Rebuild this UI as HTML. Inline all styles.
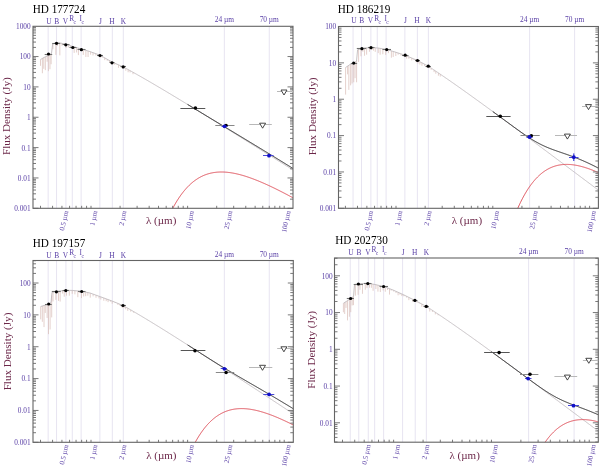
<!DOCTYPE html>
<html><head><meta charset="utf-8"><style>
html,body{margin:0;padding:0;background:#fff;width:600px;height:468px;overflow:hidden}
svg{display:block;filter:blur(0.3px)}
text{font-family:"Liberation Serif",serif}
</style></head><body>
<svg width="600" height="468" viewBox="0 0 600 468">
<rect width="600" height="468" fill="#fff"/>
<clipPath id="c1"><rect x="33" y="26.3" width="260" height="182"/></clipPath>
<line x1="48.15" y1="26.3" x2="48.15" y2="208.3" stroke="#e7e4f1" stroke-width="1"/>
<line x1="56.57" y1="26.3" x2="56.57" y2="208.3" stroke="#e7e4f1" stroke-width="1"/>
<line x1="65.93" y1="26.3" x2="65.93" y2="208.3" stroke="#e7e4f1" stroke-width="1"/>
<line x1="72.29" y1="26.3" x2="72.29" y2="208.3" stroke="#e7e4f1" stroke-width="1"/>
<line x1="81.12" y1="26.3" x2="81.12" y2="208.3" stroke="#e7e4f1" stroke-width="1"/>
<line x1="99.87" y1="26.3" x2="99.87" y2="208.3" stroke="#e7e4f1" stroke-width="1"/>
<line x1="112.32" y1="26.3" x2="112.32" y2="208.3" stroke="#e7e4f1" stroke-width="1"/>
<line x1="123.3" y1="26.3" x2="123.3" y2="208.3" stroke="#e7e4f1" stroke-width="1"/>
<line x1="224.34" y1="26.3" x2="224.34" y2="208.3" stroke="#e7e4f1" stroke-width="1"/>
<line x1="269.25" y1="26.3" x2="269.25" y2="208.3" stroke="#e7e4f1" stroke-width="1"/>
<g clip-path="url(#c1)">
<path d="M40.5 59.5v6.31 M42.38 58.43v14.81 M43.78 57.62v11.19 M45.34 56.84v13.3 M47.17 55.95v5.77 M48.4 55.35v15.78 M49.94 54.44v14.79 M51.14 53.71v10.51 M52.92 43.87v5.29 M55.84 42.89v12.01 M57.49 42.67v3.25 M59.84 42.97v12.39 M61.98 43.4v2.3 M64.17 43.89v1.17 M66.08 44.33v3.63 M68.37 45.07v2.4 M70.3 45.69v2.31 M72.54 46.41v2.74 M74.17 46.89v6.03 M76.55 47.59v4.85 M78.41 48.14v6.96 M81.21 48.96v1.73 M83.28 49.58v5.33 M85.88 50.36v6.62 M88.07 51.02v5.98 M90.6 51.82v2.82 M93.03 52.69v2.71 M95.81 53.69v1.76 M98.24 54.57v0.59 M100.18 55.3v2.49 M102.36 56.54v0.93 M104.72 57.88v2.26 M107.27 59.32v1.44 M109.48 60.57v1.77 M112.17 62.08v1.8 M114.32 63.02v1.72 M115.97 63.73v0.61 M118.55 64.87v2.96 M120.98 65.93v1.48 M122.82 66.73v1.76 M125.79 68.3v2.43 M128.15 69.59v2.65 M130.07 70.64v1.78 M133.01 72.27v1.94" stroke="#d2b0aa" stroke-width="0.6" fill="none"/>
<path d="M40.5 59.5 L44 57.5 L48.5 55.3 L51.5 53.5 L52.6 44 L55 43 L58 42.6 L62 43.4 L66 44.3 L72.5 46.4 L81 48.9 L90 51.6 L100 55.2 L112 62 L123.2 66.9 L124.03 67.35 L124.86 67.8 L125.69 68.25 L126.52 68.7 L127.35 69.15 L128.18 69.6 L129.02 70.06 L129.85 70.52 L130.68 70.98 L131.51 71.44 L132.34 71.9 L133.17 72.36 L134 72.82 L134.83 73.29 L135.66 73.76 L136.49 74.22 L137.32 74.69 L138.15 75.16 L138.98 75.63 L139.82 76.1 L140.65 76.58 L141.48 77.05 L142.31 77.52 L143.14 78 L143.97 78.48 L144.8 78.96 L145.63 79.43 L146.46 79.91 L147.29 80.39 L148.12 80.87 L148.95 81.36 L149.78 81.84 L150.62 82.32 L151.45 82.81 L152.28 83.29 L153.11 83.78 L153.94 84.27 L154.77 84.75 L155.6 85.24 L156.43 85.73 L157.26 86.22 L158.09 86.71 L158.92 87.2 L159.75 87.69 L160.58 88.18 L161.42 88.68 L162.25 89.17 L163.08 89.66 L163.91 90.16 L164.74 90.65 L165.57 91.15 L166.4 91.64 L167.23 92.14 L168.06 92.64 L168.89 93.14 L169.72 93.63 L170.55 94.13 L171.39 94.63 L172.22 95.13 L173.05 95.63 L173.88 96.13 L174.71 96.63 L175.54 97.13 L176.37 97.64 L177.2 98.14 L178.03 98.64 L178.86 99.14 L179.69 99.65 L180.52 100.15 L181.35 100.65 L182.19 101.16 L183.02 101.66 L183.85 102.17 L184.68 102.67 L185.51 103.18 L186.34 103.69 L187.17 104.19 L188 104.7 L188.83 105.21 L189.66 105.71 L190.49 106.22 L191.32 106.73 L192.15 107.24 L192.99 107.75 L193.82 108.25 L194.65 108.76 L195.48 109.27 L196.31 109.78 L197.14 110.29 L197.97 110.8 L198.8 111.31 L199.63 111.82 L200.46 112.33 L201.29 112.84 L202.12 113.35 L202.95 113.87 L203.79 114.38 L204.62 114.89 L205.45 115.4 L206.28 115.91 L207.11 116.43 L207.94 116.94 L208.77 117.45 L209.6 117.96 L210.43 118.48 L211.26 118.99 L212.09 119.5 L212.92 120.02 L213.75 120.53 L214.59 121.05 L215.42 121.56 L216.25 122.07 L217.08 122.59 L217.91 123.1 L218.74 123.62 L219.57 124.13 L220.4 124.65 L221.23 125.16 L222.06 125.68 L222.89 126.19 L223.72 126.71 L224.55 127.23 L225.39 127.74 L226.22 128.26 L227.05 128.77 L227.88 129.29 L228.71 129.81 L229.54 130.32 L230.37 130.84 L231.2 131.35 L232.03 131.87 L232.86 132.39 L233.69 132.91 L234.52 133.42 L235.35 133.94 L236.19 134.46 L237.02 134.97 L237.85 135.49 L238.68 136.01 L239.51 136.53 L240.34 137.04 L241.17 137.56 L242 138.08 L242.83 138.6 L243.66 139.12 L244.49 139.63 L245.32 140.15 L246.15 140.67 L246.99 141.19 L247.82 141.71 L248.65 142.23 L249.48 142.74 L250.31 143.26 L251.14 143.78 L251.97 144.3 L252.8 144.82 L253.63 145.34 L254.46 145.86 L255.29 146.38 L256.12 146.89 L256.96 147.41 L257.79 147.93 L258.62 148.45 L259.45 148.97 L260.28 149.49 L261.11 150.01 L261.94 150.53 L262.77 151.05 L263.6 151.57 L264.43 152.09 L265.26 152.61 L266.09 153.13 L266.92 153.65 L267.76 154.17 L268.59 154.69 L269.42 155.21 L270.25 155.73 L271.08 156.25 L271.91 156.77 L272.74 157.29 L273.57 157.81 L274.4 158.33 L275.23 158.85 L276.06 159.37 L276.89 159.89 L277.72 160.41 L278.56 160.93 L279.39 161.45 L280.22 161.97 L281.05 162.49 L281.88 163.01 L282.71 163.53 L283.54 164.05 L284.37 164.57 L285.2 165.09 L286.03 165.61 L286.86 166.13 L287.69 166.65 L288.52 167.17 L289.36 167.69 L290.19 168.22 L291.02 168.74 L291.85 169.26 L292.68 169.78 L293.51 170.3 L294.34 170.82" stroke="#c2bcc0" stroke-width="0.9" fill="none"/>
<path d="M160.06 238.22 L160.48 237.03 L160.89 235.85 L161.31 234.69 L161.73 233.54 L162.15 232.41 L162.56 231.29 L162.98 230.19 L163.4 229.1 L163.82 228.03 L164.23 226.97 L164.65 225.92 L165.07 224.89 L165.49 223.88 L165.9 222.87 L166.32 221.89 L166.74 220.91 L167.16 219.95 L167.57 219 L167.99 218.07 L168.41 217.15 L168.83 216.24 L169.24 215.34 L169.66 214.46 L170.08 213.59 L170.5 212.73 L170.91 211.89 L171.33 211.06 L171.75 210.24 L172.17 209.43 L172.58 208.63 L173 207.85 L173.42 207.07 L173.84 206.31 L174.25 205.56 L174.67 204.82 L175.09 204.09 L175.5 203.38 L175.92 202.67 L176.34 201.98 L176.76 201.29 L177.17 200.62 L177.59 199.95 L178.01 199.3 L178.43 198.66 L178.84 198.03 L179.26 197.41 L179.68 196.79 L180.1 196.19 L180.51 195.6 L180.93 195.02 L181.35 194.44 L181.77 193.88 L182.18 193.33 L182.6 192.78 L183.02 192.25 L183.44 191.72 L183.85 191.2 L184.27 190.7 L184.69 190.2 L185.11 189.71 L185.52 189.22 L185.94 188.75 L186.36 188.29 L186.78 187.83 L187.19 187.38 L187.61 186.94 L188.03 186.51 L188.45 186.09 L188.86 185.67 L189.28 185.26 L189.7 184.86 L190.12 184.47 L190.53 184.09 L190.95 183.71 L191.37 183.34 L191.79 182.98 L192.2 182.63 L192.62 182.28 L193.04 181.94 L193.46 181.6 L193.87 181.28 L194.29 180.96 L194.71 180.65 L195.12 180.34 L195.54 180.04 L195.96 179.75 L196.38 179.47 L196.79 179.19 L197.21 178.91 L197.63 178.65 L198.05 178.39 L198.46 178.13 L198.88 177.89 L199.3 177.65 L199.72 177.41 L200.13 177.18 L200.55 176.96 L200.97 176.74 L201.39 176.53 L201.8 176.32 L202.22 176.12 L202.64 175.93 L203.06 175.74 L203.47 175.55 L203.89 175.38 L204.31 175.2 L204.73 175.03 L205.14 174.87 L205.56 174.71 L205.98 174.56 L206.4 174.41 L206.81 174.27 L207.23 174.13 L207.65 174 L208.07 173.87 L208.48 173.75 L208.9 173.63 L209.32 173.52 L209.74 173.41 L210.15 173.3 L210.57 173.2 L210.99 173.11 L211.41 173.02 L211.82 172.93 L212.24 172.85 L212.66 172.77 L213.07 172.69 L213.49 172.62 L213.91 172.56 L214.33 172.49 L214.74 172.43 L215.16 172.38 L215.58 172.33 L216 172.28 L216.41 172.24 L216.83 172.2 L217.25 172.16 L217.67 172.13 L218.08 172.1 L218.5 172.08 L218.92 172.06 L219.34 172.04 L219.75 172.02 L220.17 172.01 L220.59 172.01 L221.01 172 L221.42 172 L221.84 172 L222.26 172.01 L222.68 172.02 L223.09 172.03 L223.51 172.04 L223.93 172.06 L224.35 172.08 L224.76 172.1 L225.18 172.13 L225.6 172.16 L226.02 172.19 L226.43 172.22 L226.85 172.26 L227.27 172.3 L227.69 172.34 L228.1 172.39 L228.52 172.44 L228.94 172.49 L229.36 172.54 L229.77 172.6 L230.19 172.66 L230.61 172.72 L231.03 172.78 L231.44 172.85 L231.86 172.91 L232.28 172.98 L232.69 173.06 L233.11 173.13 L233.53 173.21 L233.95 173.29 L234.36 173.37 L234.78 173.45 L235.2 173.54 L235.62 173.63 L236.03 173.72 L236.45 173.81 L236.87 173.91 L237.29 174 L237.7 174.1 L238.12 174.2 L238.54 174.3 L238.96 174.41 L239.37 174.51 L239.79 174.62 L240.21 174.73 L240.63 174.84 L241.04 174.95 L241.46 175.07 L241.88 175.19 L242.3 175.3 L242.71 175.42 L243.13 175.55 L243.55 175.67 L243.97 175.79 L244.38 175.92 L244.8 176.05 L245.22 176.18 L245.64 176.31 L246.05 176.44 L246.47 176.58 L246.89 176.71 L247.31 176.85 L247.72 176.99 L248.14 177.13 L248.56 177.27 L248.98 177.42 L249.39 177.56 L249.81 177.71 L250.23 177.85 L250.64 178 L251.06 178.15 L251.48 178.3 L251.9 178.46 L252.31 178.61 L252.73 178.77 L253.15 178.92 L253.57 179.08 L253.98 179.24 L254.4 179.4 L254.82 179.56 L255.24 179.72 L255.65 179.88 L256.07 180.05 L256.49 180.22 L256.91 180.38 L257.32 180.55 L257.74 180.72 L258.16 180.89 L258.58 181.06 L258.99 181.23 L259.41 181.41 L259.83 181.58 L260.25 181.75 L260.66 181.93 L261.08 182.11 L261.5 182.29 L261.92 182.47 L262.33 182.65 L262.75 182.83 L263.17 183.01 L263.59 183.19 L264 183.37 L264.42 183.56 L264.84 183.74 L265.26 183.93 L265.67 184.12 L266.09 184.31 L266.51 184.49 L266.93 184.68 L267.34 184.87 L267.76 185.07 L268.18 185.26 L268.6 185.45 L269.01 185.64 L269.43 185.84 L269.85 186.03 L270.26 186.23 L270.68 186.43 L271.1 186.62 L271.52 186.82 L271.93 187.02 L272.35 187.22 L272.77 187.42 L273.19 187.62 L273.6 187.82 L274.02 188.03 L274.44 188.23 L274.86 188.43 L275.27 188.64 L275.69 188.84 L276.11 189.05 L276.53 189.25 L276.94 189.46 L277.36 189.67 L277.78 189.87 L278.2 190.08 L278.61 190.29 L279.03 190.5 L279.45 190.71 L279.87 190.92 L280.28 191.13 L280.7 191.35 L281.12 191.56 L281.54 191.77 L281.95 191.98 L282.37 192.2 L282.79 192.41 L283.21 192.63 L283.62 192.84 L284.04 193.06 L284.46 193.28 L284.88 193.49 L285.29 193.71 L285.71 193.93 L286.13 194.15 L286.55 194.37 L286.96 194.59 L287.38 194.81 L287.8 195.03 L288.21 195.25 L288.63 195.47 L289.05 195.69 L289.47 195.91 L289.88 196.14 L290.3 196.36 L290.72 196.58 L291.14 196.81 L291.55 197.03 L291.97 197.26 L292.39 197.48 L292.81 197.71 L293.22 197.93 L293.64 198.16 L294.06 198.39 L294.48 198.61 L294.89 198.84" stroke="#dc4a55" stroke-width="1" fill="none"/>
<path d="M187.61 104.44 L188.03 104.69 L188.44 104.94 L188.86 105.2 L189.28 105.45 L189.7 105.7 L190.11 105.96 L190.53 106.21 L190.95 106.46 L191.37 106.72 L191.78 106.97 L192.2 107.22 L192.62 107.48 L193.04 107.73 L193.45 107.98 L193.87 108.24 L194.29 108.49 L194.71 108.74 L195.12 109 L195.54 109.25 L195.96 109.5 L196.38 109.76 L196.79 110.01 L197.21 110.26 L197.63 110.52 L198.05 110.77 L198.46 111.02 L198.88 111.28 L199.3 111.53 L199.72 111.78 L200.13 112.04 L200.55 112.29 L200.97 112.54 L201.39 112.8 L201.8 113.05 L202.22 113.3 L202.64 113.55 L203.06 113.81 L203.47 114.06 L203.89 114.31 L204.31 114.57 L204.73 114.82 L205.14 115.07 L205.56 115.33 L205.98 115.58 L206.4 115.83 L206.81 116.08 L207.23 116.34 L207.65 116.59 L208.06 116.84 L208.48 117.09 L208.9 117.35 L209.32 117.6 L209.73 117.85 L210.15 118.1 L210.57 118.36 L210.99 118.61 L211.4 118.86 L211.82 119.11 L212.24 119.36 L212.66 119.62 L213.07 119.87 L213.49 120.12 L213.91 120.37 L214.33 120.63 L214.74 120.88 L215.16 121.13 L215.58 121.38 L216 121.63 L216.41 121.89 L216.83 122.14 L217.25 122.39 L217.67 122.64 L218.08 122.89 L218.5 123.14 L218.92 123.4 L219.34 123.65 L219.75 123.9 L220.17 124.15 L220.59 124.4 L221.01 124.65 L221.42 124.91 L221.84 125.16 L222.26 125.41 L222.68 125.66 L223.09 125.91 L223.51 126.16 L223.93 126.42 L224.35 126.67 L224.76 126.92 L225.18 127.17 L225.6 127.42 L226.01 127.67 L226.43 127.93 L226.85 128.18 L227.27 128.43 L227.68 128.68 L228.1 128.93 L228.52 129.18 L228.94 129.43 L229.35 129.69 L229.77 129.94 L230.19 130.19 L230.61 130.44 L231.02 130.69 L231.44 130.94 L231.86 131.2 L232.28 131.45 L232.69 131.7 L233.11 131.95 L233.53 132.2 L233.95 132.45 L234.36 132.71 L234.78 132.96 L235.2 133.21 L235.62 133.46 L236.03 133.71 L236.45 133.96 L236.87 134.22 L237.29 134.47 L237.7 134.72 L238.12 134.97 L238.54 135.22 L238.96 135.48 L239.37 135.73 L239.79 135.98 L240.21 136.23 L240.63 136.48 L241.04 136.74 L241.46 136.99 L241.88 137.24 L242.3 137.49 L242.71 137.75 L243.13 138 L243.55 138.25 L243.97 138.5 L244.38 138.75 L244.8 139.01 L245.22 139.26 L245.63 139.51 L246.05 139.76 L246.47 140.02 L246.89 140.27 L247.3 140.52 L247.72 140.78 L248.14 141.03 L248.56 141.28 L248.97 141.53 L249.39 141.79 L249.81 142.04 L250.23 142.29 L250.64 142.55 L251.06 142.8 L251.48 143.05 L251.9 143.31 L252.31 143.56 L252.73 143.81 L253.15 144.06 L253.57 144.32 L253.98 144.57 L254.4 144.83 L254.82 145.08 L255.24 145.33 L255.65 145.59 L256.07 145.84 L256.49 146.09 L256.91 146.35 L257.32 146.6 L257.74 146.85 L258.16 147.11 L258.58 147.36 L258.99 147.62 L259.41 147.87 L259.83 148.12 L260.25 148.38 L260.66 148.63 L261.08 148.89 L261.5 149.14 L261.92 149.4 L262.33 149.65 L262.75 149.9 L263.17 150.16 L263.59 150.41 L264 150.67 L264.42 150.92 L264.84 151.18 L265.25 151.43 L265.67 151.69 L266.09 151.94 L266.51 152.2 L266.92 152.45 L267.34 152.71 L267.76 152.96 L268.18 153.22 L268.59 153.47 L269.01 153.73 L269.43 153.98 L269.85 154.24 L270.26 154.49 L270.68 154.75 L271.1 155 L271.52 155.26 L271.93 155.52 L272.35 155.77 L272.77 156.03 L273.19 156.28 L273.6 156.54 L274.02 156.79 L274.44 157.05 L274.86 157.31 L275.27 157.56 L275.69 157.82 L276.11 158.07 L276.53 158.33 L276.94 158.59 L277.36 158.84 L277.78 159.1 L278.2 159.36 L278.61 159.61 L279.03 159.87 L279.45 160.12 L279.87 160.38 L280.28 160.64 L280.7 160.89 L281.12 161.15 L281.54 161.41 L281.95 161.66 L282.37 161.92 L282.79 162.18 L283.2 162.43 L283.62 162.69 L284.04 162.95 L284.46 163.21 L284.87 163.46 L285.29 163.72 L285.71 163.98 L286.13 164.23 L286.54 164.49 L286.96 164.75 L287.38 165.01 L287.8 165.26 L288.21 165.52 L288.63 165.78 L289.05 166.03 L289.47 166.29 L289.88 166.55 L290.3 166.81 L290.72 167.07 L291.14 167.32 L291.55 167.58 L291.97 167.84 L292.39 168.1 L292.81 168.35 L293.22 168.61 L293.64 168.87 L294.06 169.13 L294.48 169.39 L294.89 169.64" stroke="#222" stroke-width="1" fill="none"/>
</g>
<path d="M33 208.3h5.5 M293 208.3h-5.5 M33 199.16h3 M293 199.16h-3 M33 193.82h3 M293 193.82h-3 M33 190.03h3 M293 190.03h-3 M33 187.09h3 M293 187.09h-3 M33 184.68h3 M293 184.68h-3 M33 182.65h3 M293 182.65h-3 M33 180.89h3 M293 180.89h-3 M33 179.34h3 M293 179.34h-3 M33 177.95h5.5 M293 177.95h-5.5 M33 168.81h3 M293 168.81h-3 M33 163.47h3 M293 163.47h-3 M33 159.68h3 M293 159.68h-3 M33 156.74h3 M293 156.74h-3 M33 154.33h3 M293 154.33h-3 M33 152.3h3 M293 152.3h-3 M33 150.54h3 M293 150.54h-3 M33 148.99h3 M293 148.99h-3 M33 147.6h5.5 M293 147.6h-5.5 M33 138.46h3 M293 138.46h-3 M33 133.12h3 M293 133.12h-3 M33 129.33h3 M293 129.33h-3 M33 126.39h3 M293 126.39h-3 M33 123.98h3 M293 123.98h-3 M33 121.95h3 M293 121.95h-3 M33 120.19h3 M293 120.19h-3 M33 118.64h3 M293 118.64h-3 M33 117.25h5.5 M293 117.25h-5.5 M33 108.11h3 M293 108.11h-3 M33 102.77h3 M293 102.77h-3 M33 98.98h3 M293 98.98h-3 M33 96.04h3 M293 96.04h-3 M33 93.63h3 M293 93.63h-3 M33 91.6h3 M293 91.6h-3 M33 89.84h3 M293 89.84h-3 M33 88.29h3 M293 88.29h-3 M33 86.9h5.5 M293 86.9h-5.5 M33 77.76h3 M293 77.76h-3 M33 72.42h3 M293 72.42h-3 M33 68.63h3 M293 68.63h-3 M33 65.69h3 M293 65.69h-3 M33 63.28h3 M293 63.28h-3 M33 61.25h3 M293 61.25h-3 M33 59.49h3 M293 59.49h-3 M33 57.94h3 M293 57.94h-3 M33 56.55h5.5 M293 56.55h-5.5 M33 47.41h3 M293 47.41h-3 M33 42.07h3 M293 42.07h-3 M33 38.28h3 M293 38.28h-3 M33 35.34h3 M293 35.34h-3 M33 32.93h3 M293 32.93h-3 M33 30.9h3 M293 30.9h-3 M33 29.14h3 M293 29.14h-3 M33 27.59h3 M293 27.59h-3 M40.5 208.3v-2.5 M52.57 208.3v-2.5 M61.93 208.3v-2.5 M69.58 208.3v-2.5 M76.05 208.3v-2.5 M81.65 208.3v-2.5 M86.59 208.3v-2.5 M91.01 208.3v-2.5 M120.09 208.3v-2.5 M137.1 208.3v-2.5 M149.17 208.3v-2.5 M158.53 208.3v-2.5 M166.18 208.3v-2.5 M172.65 208.3v-2.5 M178.25 208.3v-2.5 M183.19 208.3v-2.5 M187.61 208.3v-2.5 M216.69 208.3v-2.5 M233.7 208.3v-2.5 M245.77 208.3v-2.5 M255.13 208.3v-2.5 M262.78 208.3v-2.5 M269.25 208.3v-2.5 M274.85 208.3v-2.5 M279.79 208.3v-2.5 M284.21 208.3v-2.5" stroke="#7a7a7a" stroke-width="1" fill="none"/>
<rect x="33" y="26.3" width="260" height="182" stroke="#646464" stroke-width="1.1" fill="none"/>
<line x1="44.7" y1="54.5" x2="52.2" y2="54.5" stroke="#707070" stroke-width="1.1"/>
<circle cx="48.5" cy="54" r="1.6" fill="#000"/>
<line x1="52.2" y1="43.5" x2="60.2" y2="43.5" stroke="#707070" stroke-width="1.1"/>
<circle cx="56.5" cy="43.3" r="1.6" fill="#000"/>
<line x1="62.5" y1="44.5" x2="69.5" y2="44.5" stroke="#707070" stroke-width="1.1"/>
<circle cx="65.8" cy="44.8" r="1.6" fill="#000"/>
<line x1="69.5" y1="47.5" x2="76.5" y2="47.5" stroke="#707070" stroke-width="1.1"/>
<circle cx="72.8" cy="47.5" r="1.6" fill="#000"/>
<line x1="77.5" y1="49.5" x2="85.5" y2="49.5" stroke="#707070" stroke-width="1.1"/>
<circle cx="81.4" cy="49.7" r="1.6" fill="#000"/>
<line x1="97" y1="55.5" x2="103" y2="55.5" stroke="#707070" stroke-width="1.1"/>
<circle cx="100" cy="55.5" r="1.6" fill="#000"/>
<line x1="109.5" y1="62.5" x2="114.5" y2="62.5" stroke="#707070" stroke-width="1.1"/>
<circle cx="112" cy="62.8" r="1.6" fill="#000"/>
<line x1="120.5" y1="66.5" x2="126" y2="66.5" stroke="#707070" stroke-width="1.1"/>
<circle cx="123.2" cy="66.9" r="1.6" fill="#000"/>
<line x1="180.4" y1="108.5" x2="205.3" y2="108.5" stroke="#555" stroke-width="1"/>
<circle cx="195.4" cy="108" r="1.8" fill="#000"/>
<line x1="215.3" y1="125.5" x2="234.5" y2="125.5" stroke="#888" stroke-width="1"/>
<circle cx="226" cy="125.5" r="1.8" fill="#000"/>
<line x1="221.5" y1="126.5" x2="227.5" y2="126.5" stroke="#4848d8" stroke-width="1"/>
<circle cx="224.5" cy="126.3" r="1.9" fill="#1010c8"/>
<line x1="263" y1="155.5" x2="273.6" y2="155.5" stroke="#4848d8" stroke-width="1"/>
<circle cx="269" cy="155.7" r="1.9" fill="#1010c8"/>
<line x1="249.2" y1="124.5" x2="271.8" y2="124.5" stroke="#b8b8b8" stroke-width="1"/>
<path d="M259.6 123.2h6l-3 5z" stroke="#333" stroke-width="0.9" fill="#fff"/>
<line x1="277" y1="91.5" x2="293" y2="91.5" stroke="#b8b8b8" stroke-width="1"/>
<path d="M281 90h6l-3 5z" stroke="#333" stroke-width="0.9" fill="#fff"/>
<text x="32.7" y="12.8" font-size="11.7" textLength="52.6" lengthAdjust="spacingAndGlyphs" fill="#000">HD 177724</text>
<g fill="#5a40a6"><text x="30.6" y="29.1" font-size="7.3" text-anchor="end">1000</text><text x="30.6" y="59.45" font-size="7.3" text-anchor="end">100</text><text x="30.6" y="89.8" font-size="7.3" text-anchor="end">10</text><text x="30.6" y="120.15" font-size="7.3" text-anchor="end">1</text><text x="30.6" y="150.5" font-size="7.3" text-anchor="end">0.1</text><text x="30.6" y="180.85" font-size="7.3" text-anchor="end">0.01</text><text x="30.6" y="211.2" font-size="7.3" text-anchor="end">0.001</text><text x="48.95" y="23.5" font-size="7.4" text-anchor="middle">U</text><text x="56.72" y="23.5" font-size="7.4" text-anchor="middle">B</text><text x="65.53" y="23.5" font-size="7.4" text-anchor="middle">V</text><text x="71.69" y="20.8" font-size="7.4" text-anchor="middle">R</text><text x="74.69" y="23.9" font-size="5.6" text-anchor="middle">c</text><text x="80.82" y="20.8" font-size="7.4" text-anchor="middle">I</text><text x="82.62" y="23.9" font-size="5.6" text-anchor="middle">c</text><text x="100.37" y="23.5" font-size="7.4" text-anchor="middle">J</text><text x="111.82" y="23.5" font-size="7.4" text-anchor="middle">H</text><text x="123.45" y="23.5" font-size="7.4" text-anchor="middle">K</text><text x="224.34" y="22" font-size="7.4" text-anchor="middle">24 µm</text><text x="269.25" y="22" font-size="7.4" text-anchor="middle">70 µm</text><text transform="translate(68.33 211.3) rotate(-78)" font-size="7.1" text-anchor="end">0.5 µm</text><text transform="translate(97.41 211.3) rotate(-78)" font-size="7.1" text-anchor="end">1 µm</text><text transform="translate(126.49 211.3) rotate(-78)" font-size="7.1" text-anchor="end">2 µm</text><text transform="translate(194.01 211.3) rotate(-78)" font-size="7.1" text-anchor="end">10 µm</text><text transform="translate(232.45 211.3) rotate(-78)" font-size="7.1" text-anchor="end">25 µm</text><text transform="translate(290.61 211.3) rotate(-78)" font-size="7.1" text-anchor="end">100 µm</text></g>
<text x="161.2" y="224.3" font-size="11" fill="#6c2749" text-anchor="middle">λ (µm)</text>
<text transform="translate(9.7 116.2) rotate(-90)" font-size="11.1" fill="#6c2749" text-anchor="middle">Flux Density (Jy)</text>
<clipPath id="c2"><rect x="338.5" y="26.5" width="259.9" height="181.8"/></clipPath>
<line x1="353.06" y1="26.5" x2="353.06" y2="208.3" stroke="#e7e4f1" stroke-width="1"/>
<line x1="361.5" y1="26.5" x2="361.5" y2="208.3" stroke="#e7e4f1" stroke-width="1"/>
<line x1="370.88" y1="26.5" x2="370.88" y2="208.3" stroke="#e7e4f1" stroke-width="1"/>
<line x1="377.25" y1="26.5" x2="377.25" y2="208.3" stroke="#e7e4f1" stroke-width="1"/>
<line x1="386.1" y1="26.5" x2="386.1" y2="208.3" stroke="#e7e4f1" stroke-width="1"/>
<line x1="404.89" y1="26.5" x2="404.89" y2="208.3" stroke="#e7e4f1" stroke-width="1"/>
<line x1="417.37" y1="26.5" x2="417.37" y2="208.3" stroke="#e7e4f1" stroke-width="1"/>
<line x1="428.37" y1="26.5" x2="428.37" y2="208.3" stroke="#e7e4f1" stroke-width="1"/>
<line x1="529.62" y1="26.5" x2="529.62" y2="208.3" stroke="#e7e4f1" stroke-width="1"/>
<line x1="574.62" y1="26.5" x2="574.62" y2="208.3" stroke="#e7e4f1" stroke-width="1"/>
<g clip-path="url(#c2)">
<path d="M345.6 67.5v27.08 M347.56 66.16v8.19 M348.83 65.3v24.55 M350.61 64.27v21.06 M352.06 63.73v19.72 M353.75 63.09v19.21 M355.07 62.14v16.04 M356.59 60.1v22.18 M358.58 49.47v12.49 M360.95 48.81v7.45 M362.92 48.42v3.36 M364.56 48.09v7.65 M366.61 47.87v6.8 M369.45 47.63v4.15 M371.84 47.56v2.42 M373.47 47.68v2.95 M375.26 47.8v4.06 M378.26 48.05v5.05 M380.12 48.36v6.36 M382.83 48.83v5.41 M385.7 49.33v5.58 M388.41 50.01v3.12 M391.38 50.91v6.77 M393.21 51.46v5.52 M395.81 52.26v3.77 M398.15 53.01v1.73 M401.04 53.93v1.75 M403.81 54.82v1.38 M406.64 55.9v2.75 M408.89 56.85v1.92 M411.78 58.07v2.31 M414.06 59.04v1.05 M416.11 59.91v2.25 M417.95 60.74v2.77 M419.92 61.78v2.78 M421.96 62.85v2.89 M424.54 64.22v1.76 M426.87 65.44v2.13 M429.29 66.85v1.28 M431.18 68.1v1.78 M434.09 70.03v2.06 M435.8 71.17v2.55 M438.41 72.94v2.77 M440.28 74.2v2.36" stroke="#d2b0aa" stroke-width="0.6" fill="none"/>
<path d="M345.6 67.5 L350 64.5 L354 63 L356.5 61 L357.6 49.8 L360 49 L365 48 L371 47.5 L378 48 L386.7 49.5 L395 52 L405 55.2 L417.5 60.5 L428.3 66.2 L429.13 66.75 L429.96 67.29 L430.8 67.84 L431.63 68.39 L432.46 68.95 L433.29 69.5 L434.13 70.05 L434.96 70.61 L435.79 71.17 L436.62 71.73 L437.46 72.29 L438.29 72.85 L439.12 73.42 L439.95 73.98 L440.79 74.55 L441.62 75.11 L442.45 75.68 L443.28 76.25 L444.12 76.82 L444.95 77.4 L445.78 77.97 L446.61 78.54 L447.45 79.12 L448.28 79.69 L449.11 80.27 L449.94 80.85 L450.78 81.43 L451.61 82.01 L452.44 82.59 L453.27 83.17 L454.11 83.75 L454.94 84.34 L455.77 84.92 L456.6 85.51 L457.44 86.1 L458.27 86.68 L459.1 87.27 L459.93 87.86 L460.77 88.45 L461.6 89.04 L462.43 89.63 L463.26 90.22 L464.1 90.81 L464.93 91.41 L465.76 92 L466.59 92.59 L467.43 93.19 L468.26 93.78 L469.09 94.38 L469.92 94.98 L470.76 95.57 L471.59 96.17 L472.42 96.77 L473.25 97.37 L474.09 97.97 L474.92 98.57 L475.75 99.17 L476.58 99.77 L477.42 100.37 L478.25 100.97 L479.08 101.57 L479.91 102.18 L480.75 102.78 L481.58 103.38 L482.41 103.99 L483.24 104.59 L484.08 105.2 L484.91 105.8 L485.74 106.41 L486.57 107.01 L487.41 107.62 L488.24 108.23 L489.07 108.84 L489.9 109.44 L490.74 110.05 L491.57 110.66 L492.4 111.27 L493.23 111.88 L494.07 112.49 L494.9 113.1 L495.73 113.71 L496.56 114.32 L497.4 114.93 L498.23 115.54 L499.06 116.15 L499.89 116.76 L500.73 117.37 L501.56 117.99 L502.39 118.6 L503.22 119.21 L504.06 119.82 L504.89 120.44 L505.72 121.05 L506.55 121.66 L507.39 122.28 L508.22 122.89 L509.05 123.5 L509.88 124.12 L510.72 124.73 L511.55 125.35 L512.38 125.96 L513.21 126.58 L514.05 127.19 L514.88 127.81 L515.71 128.43 L516.54 129.04 L517.38 129.66 L518.21 130.28 L519.04 130.89 L519.87 131.51 L520.71 132.13 L521.54 132.74 L522.37 133.36 L523.2 133.98 L524.04 134.6 L524.87 135.21 L525.7 135.83 L526.53 136.45 L527.37 137.07 L528.2 137.69 L529.03 138.3 L529.86 138.92 L530.7 139.54 L531.53 140.16 L532.36 140.78 L533.19 141.4 L534.03 142.02 L534.86 142.64 L535.69 143.26 L536.52 143.88 L537.36 144.5 L538.19 145.12 L539.02 145.74 L539.85 146.36 L540.69 146.98 L541.52 147.6 L542.35 148.22 L543.18 148.84 L544.02 149.46 L544.85 150.08 L545.68 150.7 L546.51 151.32 L547.35 151.94 L548.18 152.56 L549.01 153.18 L549.84 153.8 L550.68 154.43 L551.51 155.05 L552.34 155.67 L553.17 156.29 L554.01 156.91 L554.84 157.53 L555.67 158.16 L556.5 158.78 L557.34 159.4 L558.17 160.02 L559 160.64 L559.83 161.27 L560.67 161.89 L561.5 162.51 L562.33 163.13 L563.16 163.75 L564 164.38 L564.83 165 L565.66 165.62 L566.49 166.24 L567.33 166.87 L568.16 167.49 L568.99 168.11 L569.82 168.73 L570.66 169.36 L571.49 169.98 L572.32 170.6 L573.15 171.23 L573.99 171.85 L574.82 172.47 L575.65 173.1 L576.48 173.72 L577.32 174.34 L578.15 174.97 L578.98 175.59 L579.81 176.21 L580.65 176.84 L581.48 177.46 L582.31 178.08 L583.14 178.71 L583.98 179.33 L584.81 179.95 L585.64 180.58 L586.47 181.2 L587.31 181.82 L588.14 182.45 L588.97 183.07 L589.8 183.7 L590.64 184.32 L591.47 184.94 L592.3 185.57 L593.13 186.19 L593.97 186.81 L594.8 187.44 L595.63 188.06 L596.46 188.69 L597.3 189.31 L598.13 189.93 L598.96 190.56 L599.79 191.18" stroke="#c2bcc0" stroke-width="0.9" fill="none"/>
<path d="M507.04 237.68 L507.46 236.33 L507.87 235 L508.29 233.68 L508.71 232.39 L509.13 231.11 L509.55 229.84 L509.97 228.6 L510.38 227.37 L510.8 226.16 L511.22 224.96 L511.64 223.78 L512.06 222.62 L512.48 221.48 L512.89 220.35 L513.31 219.23 L513.73 218.13 L514.15 217.05 L514.57 215.98 L514.99 214.93 L515.4 213.89 L515.82 212.87 L516.24 211.86 L516.66 210.87 L517.08 209.89 L517.5 208.93 L517.91 207.98 L518.33 207.04 L518.75 206.12 L519.17 205.21 L519.59 204.32 L520.01 203.44 L520.42 202.57 L520.84 201.71 L521.26 200.87 L521.68 200.04 L522.1 199.23 L522.52 198.43 L522.93 197.64 L523.35 196.86 L523.77 196.09 L524.19 195.34 L524.61 194.6 L525.03 193.87 L525.44 193.15 L525.86 192.45 L526.28 191.75 L526.7 191.07 L527.12 190.4 L527.54 189.74 L527.95 189.09 L528.37 188.45 L528.79 187.83 L529.21 187.21 L529.63 186.6 L530.04 186.01 L530.46 185.42 L530.88 184.85 L531.3 184.29 L531.72 183.73 L532.14 183.19 L532.55 182.66 L532.97 182.13 L533.39 181.62 L533.81 181.11 L534.23 180.62 L534.65 180.13 L535.06 179.66 L535.48 179.19 L535.9 178.73 L536.32 178.29 L536.74 177.85 L537.16 177.42 L537.57 176.99 L537.99 176.58 L538.41 176.18 L538.83 175.78 L539.25 175.39 L539.67 175.01 L540.08 174.64 L540.5 174.28 L540.92 173.92 L541.34 173.57 L541.76 173.23 L542.18 172.9 L542.59 172.58 L543.01 172.26 L543.43 171.95 L543.85 171.65 L544.27 171.36 L544.69 171.07 L545.1 170.79 L545.52 170.52 L545.94 170.26 L546.36 170 L546.78 169.75 L547.2 169.5 L547.61 169.26 L548.03 169.03 L548.45 168.81 L548.87 168.59 L549.29 168.38 L549.71 168.17 L550.12 167.97 L550.54 167.78 L550.96 167.59 L551.38 167.41 L551.8 167.24 L552.22 167.07 L552.63 166.9 L553.05 166.75 L553.47 166.6 L553.89 166.45 L554.31 166.31 L554.73 166.18 L555.14 166.05 L555.56 165.92 L555.98 165.8 L556.4 165.69 L556.82 165.58 L557.23 165.48 L557.65 165.38 L558.07 165.29 L558.49 165.2 L558.91 165.12 L559.33 165.04 L559.74 164.97 L560.16 164.9 L560.58 164.84 L561 164.78 L561.42 164.72 L561.84 164.67 L562.25 164.63 L562.67 164.58 L563.09 164.55 L563.51 164.51 L563.93 164.49 L564.35 164.46 L564.76 164.44 L565.18 164.42 L565.6 164.41 L566.02 164.4 L566.44 164.4 L566.86 164.4 L567.27 164.4 L567.69 164.41 L568.11 164.42 L568.53 164.44 L568.95 164.46 L569.37 164.48 L569.78 164.5 L570.2 164.53 L570.62 164.56 L571.04 164.6 L571.46 164.64 L571.88 164.68 L572.29 164.73 L572.71 164.78 L573.13 164.83 L573.55 164.89 L573.97 164.94 L574.39 165.01 L574.8 165.07 L575.22 165.14 L575.64 165.21 L576.06 165.28 L576.48 165.36 L576.9 165.44 L577.31 165.52 L577.73 165.61 L578.15 165.7 L578.57 165.79 L578.99 165.88 L579.41 165.98 L579.82 166.07 L580.24 166.18 L580.66 166.28 L581.08 166.39 L581.5 166.49 L581.92 166.61 L582.33 166.72 L582.75 166.84 L583.17 166.95 L583.59 167.07 L584.01 167.2 L584.43 167.32 L584.84 167.45 L585.26 167.58 L585.68 167.71 L586.1 167.85 L586.52 167.98 L586.93 168.12 L587.35 168.26 L587.77 168.4 L588.19 168.55 L588.61 168.7 L589.03 168.84 L589.44 168.99 L589.86 169.15 L590.28 169.3 L590.7 169.46 L591.12 169.62 L591.54 169.78 L591.95 169.94 L592.37 170.1 L592.79 170.27 L593.21 170.43 L593.63 170.6 L594.05 170.77 L594.46 170.94 L594.88 171.12 L595.3 171.29 L595.72 171.47 L596.14 171.65 L596.56 171.83 L596.97 172.01 L597.39 172.19 L597.81 172.38 L598.23 172.57 L598.65 172.75 L599.07 172.94 L599.48 173.13 L599.9 173.33 L600.32 173.52" stroke="#dc4a55" stroke-width="1" fill="none"/>
<path d="M492.81 111.57 L493.23 111.88 L493.65 112.18 L494.07 112.49 L494.49 112.79 L494.91 113.1 L495.32 113.41 L495.74 113.71 L496.16 114.02 L496.58 114.33 L497 114.63 L497.42 114.94 L497.83 115.25 L498.25 115.55 L498.67 115.86 L499.09 116.17 L499.51 116.48 L499.93 116.78 L500.34 117.09 L500.76 117.4 L501.18 117.7 L501.6 118.01 L502.02 118.32 L502.44 118.63 L502.85 118.93 L503.27 119.24 L503.69 119.55 L504.11 119.86 L504.53 120.16 L504.95 120.47 L505.36 120.78 L505.78 121.09 L506.2 121.39 L506.62 121.7 L507.04 122.01 L507.46 122.32 L507.87 122.62 L508.29 122.93 L508.71 123.24 L509.13 123.54 L509.55 123.85 L509.97 124.16 L510.38 124.46 L510.8 124.77 L511.22 125.08 L511.64 125.38 L512.06 125.69 L512.48 126 L512.89 126.3 L513.31 126.61 L513.73 126.91 L514.15 127.22 L514.57 127.52 L514.99 127.82 L515.4 128.13 L515.82 128.43 L516.24 128.74 L516.66 129.04 L517.08 129.34 L517.49 129.64 L517.91 129.94 L518.33 130.24 L518.75 130.54 L519.17 130.84 L519.59 131.14 L520 131.44 L520.42 131.74 L520.84 132.03 L521.26 132.33 L521.68 132.62 L522.1 132.92 L522.51 133.21 L522.93 133.5 L523.35 133.79 L523.77 134.08 L524.19 134.37 L524.61 134.66 L525.02 134.95 L525.44 135.23 L525.86 135.51 L526.28 135.8 L526.7 136.08 L527.12 136.36 L527.53 136.63 L527.95 136.91 L528.37 137.19 L528.79 137.46 L529.21 137.73 L529.63 138 L530.04 138.27 L530.46 138.53 L530.88 138.8 L531.3 139.06 L531.72 139.32 L532.14 139.58 L532.55 139.84 L532.97 140.09 L533.39 140.34 L533.81 140.59 L534.23 140.84 L534.65 141.09 L535.06 141.33 L535.48 141.57 L535.9 141.81 L536.32 142.05 L536.74 142.28 L537.16 142.51 L537.57 142.74 L537.99 142.97 L538.41 143.19 L538.83 143.41 L539.25 143.63 L539.67 143.85 L540.08 144.07 L540.5 144.28 L540.92 144.49 L541.34 144.7 L541.76 144.9 L542.18 145.11 L542.59 145.31 L543.01 145.5 L543.43 145.7 L543.85 145.89 L544.27 146.09 L544.68 146.27 L545.1 146.46 L545.52 146.65 L545.94 146.83 L546.36 147.01 L546.78 147.19 L547.19 147.37 L547.61 147.54 L548.03 147.71 L548.45 147.88 L548.87 148.05 L549.29 148.22 L549.7 148.39 L550.12 148.55 L550.54 148.71 L550.96 148.88 L551.38 149.04 L551.8 149.19 L552.21 149.35 L552.63 149.51 L553.05 149.66 L553.47 149.82 L553.89 149.97 L554.31 150.12 L554.72 150.27 L555.14 150.42 L555.56 150.57 L555.98 150.72 L556.4 150.86 L556.82 151.01 L557.23 151.16 L557.65 151.3 L558.07 151.45 L558.49 151.59 L558.91 151.74 L559.33 151.88 L559.74 152.02 L560.16 152.17 L560.58 152.31 L561 152.46 L561.42 152.6 L561.84 152.74 L562.25 152.88 L562.67 153.03 L563.09 153.17 L563.51 153.32 L563.93 153.46 L564.35 153.6 L564.76 153.75 L565.18 153.89 L565.6 154.04 L566.02 154.18 L566.44 154.33 L566.86 154.48 L567.27 154.62 L567.69 154.77 L568.11 154.92 L568.53 155.07 L568.95 155.22 L569.37 155.37 L569.78 155.52 L570.2 155.67 L570.62 155.82 L571.04 155.98 L571.46 156.13 L571.88 156.28 L572.29 156.44 L572.71 156.6 L573.13 156.75 L573.55 156.91 L573.97 157.07 L574.38 157.23 L574.8 157.39 L575.22 157.55 L575.64 157.72 L576.06 157.88 L576.48 158.05 L576.89 158.21 L577.31 158.38 L577.73 158.55 L578.15 158.71 L578.57 158.88 L578.99 159.06 L579.4 159.23 L579.82 159.4 L580.24 159.57 L580.66 159.75 L581.08 159.93 L581.5 160.1 L581.91 160.28 L582.33 160.46 L582.75 160.64 L583.17 160.82 L583.59 161 L584.01 161.19 L584.42 161.37 L584.84 161.56 L585.26 161.74 L585.68 161.93 L586.1 162.12 L586.52 162.31 L586.93 162.5 L587.35 162.69 L587.77 162.89 L588.19 163.08 L588.61 163.28 L589.03 163.47 L589.44 163.67 L589.86 163.87 L590.28 164.07 L590.7 164.27 L591.12 164.47 L591.54 164.67 L591.95 164.88 L592.37 165.08 L592.79 165.29 L593.21 165.49 L593.63 165.7 L594.05 165.91 L594.46 166.12 L594.88 166.33 L595.3 166.54 L595.72 166.75 L596.14 166.97 L596.56 167.18 L596.97 167.4 L597.39 167.61 L597.81 167.83 L598.23 168.05 L598.65 168.27 L599.07 168.49 L599.48 168.71 L599.9 168.93 L600.32 169.15" stroke="#222" stroke-width="1" fill="none"/>
</g>
<path d="M338.5 208.3h5.5 M598.4 208.3h-5.5 M338.5 197.35h3 M598.4 197.35h-3 M338.5 190.95h3 M598.4 190.95h-3 M338.5 186.41h3 M598.4 186.41h-3 M338.5 182.89h3 M598.4 182.89h-3 M338.5 180.01h3 M598.4 180.01h-3 M338.5 177.57h3 M598.4 177.57h-3 M338.5 175.46h3 M598.4 175.46h-3 M338.5 173.6h3 M598.4 173.6h-3 M338.5 171.94h5.5 M598.4 171.94h-5.5 M338.5 160.99h3 M598.4 160.99h-3 M338.5 154.59h3 M598.4 154.59h-3 M338.5 150.05h3 M598.4 150.05h-3 M338.5 146.53h3 M598.4 146.53h-3 M338.5 143.65h3 M598.4 143.65h-3 M338.5 141.21h3 M598.4 141.21h-3 M338.5 139.1h3 M598.4 139.1h-3 M338.5 137.24h3 M598.4 137.24h-3 M338.5 135.58h5.5 M598.4 135.58h-5.5 M338.5 124.63h3 M598.4 124.63h-3 M338.5 118.23h3 M598.4 118.23h-3 M338.5 113.69h3 M598.4 113.69h-3 M338.5 110.17h3 M598.4 110.17h-3 M338.5 107.29h3 M598.4 107.29h-3 M338.5 104.85h3 M598.4 104.85h-3 M338.5 102.74h3 M598.4 102.74h-3 M338.5 100.88h3 M598.4 100.88h-3 M338.5 99.22h5.5 M598.4 99.22h-5.5 M338.5 88.27h3 M598.4 88.27h-3 M338.5 81.87h3 M598.4 81.87h-3 M338.5 77.33h3 M598.4 77.33h-3 M338.5 73.81h3 M598.4 73.81h-3 M338.5 70.93h3 M598.4 70.93h-3 M338.5 68.49h3 M598.4 68.49h-3 M338.5 66.38h3 M598.4 66.38h-3 M338.5 64.52h3 M598.4 64.52h-3 M338.5 62.86h5.5 M598.4 62.86h-5.5 M338.5 51.91h3 M598.4 51.91h-3 M338.5 45.51h3 M598.4 45.51h-3 M338.5 40.97h3 M598.4 40.97h-3 M338.5 37.45h3 M598.4 37.45h-3 M338.5 34.57h3 M598.4 34.57h-3 M338.5 32.13h3 M598.4 32.13h-3 M338.5 30.02h3 M598.4 30.02h-3 M338.5 28.16h3 M598.4 28.16h-3 M338.5 26.5h5.5 M598.4 26.5h-5.5 M345.4 208.3v-2.5 M357.49 208.3v-2.5 M366.87 208.3v-2.5 M374.54 208.3v-2.5 M381.02 208.3v-2.5 M386.63 208.3v-2.5 M391.59 208.3v-2.5 M396.01 208.3v-2.5 M425.15 208.3v-2.5 M442.2 208.3v-2.5 M454.29 208.3v-2.5 M463.67 208.3v-2.5 M471.34 208.3v-2.5 M477.82 208.3v-2.5 M483.43 208.3v-2.5 M488.39 208.3v-2.5 M492.81 208.3v-2.5 M521.95 208.3v-2.5 M539 208.3v-2.5 M551.09 208.3v-2.5 M560.47 208.3v-2.5 M568.14 208.3v-2.5 M574.62 208.3v-2.5 M580.23 208.3v-2.5 M585.19 208.3v-2.5 M589.61 208.3v-2.5" stroke="#7a7a7a" stroke-width="1" fill="none"/>
<rect x="338.5" y="26.5" width="259.9" height="181.8" stroke="#646464" stroke-width="1.1" fill="none"/>
<line x1="350.8" y1="63.5" x2="357.1" y2="63.5" stroke="#707070" stroke-width="1.1"/>
<circle cx="353.7" cy="63.1" r="1.6" fill="#000"/>
<line x1="356.8" y1="48.5" x2="366.2" y2="48.5" stroke="#707070" stroke-width="1.1"/>
<circle cx="361.9" cy="48.7" r="1.6" fill="#000"/>
<line x1="368" y1="47.5" x2="374.5" y2="47.5" stroke="#707070" stroke-width="1.1"/>
<circle cx="371" cy="47.7" r="1.6" fill="#000"/>
<line x1="382.5" y1="49.5" x2="391" y2="49.5" stroke="#707070" stroke-width="1.1"/>
<circle cx="386.7" cy="49.6" r="1.6" fill="#000"/>
<line x1="402" y1="55.5" x2="408.5" y2="55.5" stroke="#707070" stroke-width="1.1"/>
<circle cx="405.2" cy="55.2" r="1.6" fill="#000"/>
<line x1="415" y1="60.5" x2="420" y2="60.5" stroke="#707070" stroke-width="1.1"/>
<circle cx="417.5" cy="60.5" r="1.6" fill="#000"/>
<line x1="425.5" y1="66.5" x2="431" y2="66.5" stroke="#707070" stroke-width="1.1"/>
<circle cx="428.3" cy="66.2" r="1.6" fill="#000"/>
<line x1="486.3" y1="116.5" x2="510.6" y2="116.5" stroke="#555" stroke-width="1"/>
<circle cx="500.3" cy="116.3" r="1.8" fill="#000"/>
<line x1="520.5" y1="135.5" x2="539.7" y2="135.5" stroke="#888" stroke-width="1"/>
<circle cx="531.3" cy="135.7" r="1.8" fill="#000"/>
<line x1="526.5" y1="137.5" x2="532.5" y2="137.5" stroke="#4848d8" stroke-width="1"/>
<circle cx="529.5" cy="137" r="1.9" fill="#1010c8"/>
<line x1="569" y1="157.5" x2="578.5" y2="157.5" stroke="#4848d8" stroke-width="1"/>
<line x1="573.8" y1="153.4" x2="573.8" y2="161" stroke="#2020d0" stroke-width="1"/>
<circle cx="573.8" cy="157.2" r="1.9" fill="#1010c8"/>
<line x1="555" y1="135.5" x2="577" y2="135.5" stroke="#b8b8b8" stroke-width="1"/>
<path d="M564.4 134.1h6l-3 5z" stroke="#333" stroke-width="0.9" fill="#fff"/>
<line x1="582" y1="106.5" x2="598.4" y2="106.5" stroke="#b8b8b8" stroke-width="1"/>
<path d="M585.5 104.6h6l-3 5z" stroke="#333" stroke-width="0.9" fill="#fff"/>
<text x="337.7" y="12.8" font-size="11.7" textLength="52.6" lengthAdjust="spacingAndGlyphs" fill="#000">HD 186219</text>
<g fill="#5a40a6"><text x="336.1" y="29.4" font-size="7.3" text-anchor="end">100</text><text x="336.1" y="65.76" font-size="7.3" text-anchor="end">10</text><text x="336.1" y="102.12" font-size="7.3" text-anchor="end">1</text><text x="336.1" y="138.48" font-size="7.3" text-anchor="end">0.1</text><text x="336.1" y="174.84" font-size="7.3" text-anchor="end">0.01</text><text x="336.1" y="211.2" font-size="7.3" text-anchor="end">0.001</text><text x="353.86" y="23.4" font-size="7.4" text-anchor="middle">U</text><text x="361.65" y="23.4" font-size="7.4" text-anchor="middle">B</text><text x="370.48" y="23.4" font-size="7.4" text-anchor="middle">V</text><text x="376.65" y="20.7" font-size="7.4" text-anchor="middle">R</text><text x="379.65" y="23.8" font-size="5.6" text-anchor="middle">c</text><text x="385.8" y="20.7" font-size="7.4" text-anchor="middle">I</text><text x="387.6" y="23.8" font-size="5.6" text-anchor="middle">c</text><text x="405.39" y="23.4" font-size="7.4" text-anchor="middle">J</text><text x="416.87" y="23.4" font-size="7.4" text-anchor="middle">H</text><text x="428.52" y="23.4" font-size="7.4" text-anchor="middle">K</text><text x="529.62" y="21.9" font-size="7.4" text-anchor="middle">24 µm</text><text x="574.62" y="21.9" font-size="7.4" text-anchor="middle">70 µm</text><text transform="translate(373.27 211.3) rotate(-78)" font-size="7.1" text-anchor="end">0.5 µm</text><text transform="translate(402.41 211.3) rotate(-78)" font-size="7.1" text-anchor="end">1 µm</text><text transform="translate(431.55 211.3) rotate(-78)" font-size="7.1" text-anchor="end">2 µm</text><text transform="translate(499.21 211.3) rotate(-78)" font-size="7.1" text-anchor="end">10 µm</text><text transform="translate(537.74 211.3) rotate(-78)" font-size="7.1" text-anchor="end">25 µm</text><text transform="translate(596.01 211.3) rotate(-78)" font-size="7.1" text-anchor="end">100 µm</text></g>
<text x="466.9" y="223.8" font-size="11" fill="#6c2749" text-anchor="middle">λ (µm)</text>
<text transform="translate(316.1 116.4) rotate(-90)" font-size="11.1" fill="#6c2749" text-anchor="middle">Flux Density (Jy)</text>
<clipPath id="c3"><rect x="33" y="260.5" width="260.3" height="181.8"/></clipPath>
<line x1="48.15" y1="260.5" x2="48.15" y2="442.3" stroke="#e7e4f1" stroke-width="1"/>
<line x1="56.57" y1="260.5" x2="56.57" y2="442.3" stroke="#e7e4f1" stroke-width="1"/>
<line x1="65.93" y1="260.5" x2="65.93" y2="442.3" stroke="#e7e4f1" stroke-width="1"/>
<line x1="72.29" y1="260.5" x2="72.29" y2="442.3" stroke="#e7e4f1" stroke-width="1"/>
<line x1="81.12" y1="260.5" x2="81.12" y2="442.3" stroke="#e7e4f1" stroke-width="1"/>
<line x1="99.87" y1="260.5" x2="99.87" y2="442.3" stroke="#e7e4f1" stroke-width="1"/>
<line x1="112.32" y1="260.5" x2="112.32" y2="442.3" stroke="#e7e4f1" stroke-width="1"/>
<line x1="123.3" y1="260.5" x2="123.3" y2="442.3" stroke="#e7e4f1" stroke-width="1"/>
<line x1="224.34" y1="260.5" x2="224.34" y2="442.3" stroke="#e7e4f1" stroke-width="1"/>
<line x1="269.25" y1="260.5" x2="269.25" y2="442.3" stroke="#e7e4f1" stroke-width="1"/>
<g clip-path="url(#c3)">
<path d="M40.7 306.5v12.85 M42.34 306v15.82 M44.02 305.49v21.58 M45.27 305.15v7.8 M47.14 304.63v13.34 M48.53 304.25v29.9 M50.1 303.16v26.32 M51.69 295.51v21.88 M53.01 292.12v9.35 M55.82 291.61v8.23 M58.46 291.21v9.71 M60.15 290.98v10.58 M62.58 290.69v2.81 M64.22 290.49v6.19 M66.48 290.31v5.31 M69.31 290.36v5.28 M72.2 290.42v3.37 M74.92 290.67v3.67 M77.83 290.94v6.27 M79.57 291.1v1.82 M81.47 291.28v6.79 M83.68 291.71v4.76 M85.7 292.12v4.04 M87.85 292.56v3.11 M90.26 293.1v4.51 M93.13 294.13v2.2 M96.03 295.17v2.64 M99.02 296.25v2.18 M100.85 296.91v2.65 M103.8 297.99v2.76 M106.19 298.87v2.28 M108.09 299.57v2.58 M110.49 300.45v1.21 M112.18 301.07v2.63 M115.17 302.3v0.72 M117.89 303.41v1.53 M119.7 304.15v1.23 M122.37 305.24v2.68 M124.04 306.08v2.04 M125.7 307.02v2.3 M127.76 308.19v2.7 M130.74 309.9v1.76 M133.73 311.63v1.27" stroke="#d2b0aa" stroke-width="0.6" fill="none"/>
<path d="M40.7 306.5 L44 305.5 L48.7 304.2 L51 302.5 L52 292.3 L56.4 291.5 L60 291 L65.8 290.3 L72 290.4 L81.7 291.3 L90 293 L100 296.6 L112 301 L123 305.5 L123.83 305.97 L124.66 306.43 L125.49 306.9 L126.32 307.37 L127.15 307.84 L127.98 308.32 L128.82 308.79 L129.65 309.27 L130.48 309.75 L131.31 310.23 L132.14 310.71 L132.97 311.19 L133.8 311.67 L134.63 312.16 L135.46 312.65 L136.29 313.13 L137.12 313.62 L137.95 314.11 L138.78 314.6 L139.62 315.1 L140.45 315.59 L141.28 316.08 L142.11 316.58 L142.94 317.08 L143.77 317.58 L144.6 318.08 L145.43 318.58 L146.26 319.08 L147.09 319.58 L147.92 320.08 L148.75 320.59 L149.58 321.09 L150.42 321.6 L151.25 322.1 L152.08 322.61 L152.91 323.12 L153.74 323.63 L154.57 324.14 L155.4 324.65 L156.23 325.16 L157.06 325.67 L157.89 326.19 L158.72 326.7 L159.55 327.21 L160.38 327.73 L161.22 328.24 L162.05 328.76 L162.88 329.28 L163.71 329.79 L164.54 330.31 L165.37 330.83 L166.2 331.35 L167.03 331.87 L167.86 332.39 L168.69 332.91 L169.52 333.43 L170.35 333.96 L171.19 334.48 L172.02 335 L172.85 335.53 L173.68 336.05 L174.51 336.58 L175.34 337.1 L176.17 337.63 L177 338.15 L177.83 338.68 L178.66 339.21 L179.49 339.73 L180.32 340.26 L181.15 340.79 L181.99 341.32 L182.82 341.85 L183.65 342.38 L184.48 342.91 L185.31 343.44 L186.14 343.97 L186.97 344.5 L187.8 345.03 L188.63 345.56 L189.46 346.09 L190.29 346.62 L191.12 347.16 L191.95 347.69 L192.79 348.22 L193.62 348.76 L194.45 349.29 L195.28 349.82 L196.11 350.36 L196.94 350.89 L197.77 351.43 L198.6 351.96 L199.43 352.5 L200.26 353.03 L201.09 353.57 L201.92 354.1 L202.75 354.64 L203.59 355.18 L204.42 355.71 L205.25 356.25 L206.08 356.79 L206.91 357.33 L207.74 357.86 L208.57 358.4 L209.4 358.94 L210.23 359.48 L211.06 360.02 L211.89 360.55 L212.72 361.09 L213.55 361.63 L214.39 362.17 L215.22 362.71 L216.05 363.25 L216.88 363.79 L217.71 364.33 L218.54 364.87 L219.37 365.41 L220.2 365.95 L221.03 366.49 L221.86 367.03 L222.69 367.57 L223.52 368.11 L224.35 368.65 L225.19 369.2 L226.02 369.74 L226.85 370.28 L227.68 370.82 L228.51 371.36 L229.34 371.9 L230.17 372.44 L231 372.99 L231.83 373.53 L232.66 374.07 L233.49 374.61 L234.32 375.16 L235.15 375.7 L235.99 376.24 L236.82 376.78 L237.65 377.33 L238.48 377.87 L239.31 378.41 L240.14 378.96 L240.97 379.5 L241.8 380.04 L242.63 380.59 L243.46 381.13 L244.29 381.67 L245.12 382.22 L245.95 382.76 L246.79 383.31 L247.62 383.85 L248.45 384.39 L249.28 384.94 L250.11 385.48 L250.94 386.03 L251.77 386.57 L252.6 387.12 L253.43 387.66 L254.26 388.2 L255.09 388.75 L255.92 389.29 L256.76 389.84 L257.59 390.38 L258.42 390.93 L259.25 391.47 L260.08 392.02 L260.91 392.56 L261.74 393.11 L262.57 393.65 L263.4 394.2 L264.23 394.74 L265.06 395.29 L265.89 395.84 L266.72 396.38 L267.56 396.93 L268.39 397.47 L269.22 398.02 L270.05 398.56 L270.88 399.11 L271.71 399.65 L272.54 400.2 L273.37 400.75 L274.2 401.29 L275.03 401.84 L275.86 402.38 L276.69 402.93 L277.52 403.48 L278.36 404.02 L279.19 404.57 L280.02 405.11 L280.85 405.66 L281.68 406.21 L282.51 406.75 L283.34 407.3 L284.17 407.85 L285 408.39 L285.83 408.94 L286.66 409.49 L287.49 410.03 L288.32 410.58 L289.16 411.12 L289.99 411.67 L290.82 412.22 L291.65 412.76 L292.48 413.31 L293.31 413.86 L294.14 414.4 L294.97 414.95" stroke="#c2bcc0" stroke-width="0.9" fill="none"/>
<path d="M182.6 471.19 L183.02 470.02 L183.44 468.88 L183.85 467.75 L184.27 466.63 L184.69 465.53 L185.11 464.44 L185.52 463.37 L185.94 462.32 L186.36 461.28 L186.78 460.25 L187.19 459.24 L187.61 458.24 L188.03 457.25 L188.45 456.28 L188.86 455.32 L189.28 454.38 L189.7 453.45 L190.12 452.53 L190.53 451.63 L190.95 450.74 L191.37 449.86 L191.79 448.99 L192.2 448.14 L192.62 447.3 L193.04 446.47 L193.46 445.66 L193.87 444.85 L194.29 444.06 L194.71 443.28 L195.12 442.52 L195.54 441.76 L195.96 441.02 L196.38 440.28 L196.79 439.56 L197.21 438.85 L197.63 438.15 L198.05 437.46 L198.46 436.79 L198.88 436.12 L199.3 435.46 L199.72 434.82 L200.13 434.18 L200.55 433.56 L200.97 432.94 L201.39 432.34 L201.8 431.75 L202.22 431.16 L202.64 430.59 L203.06 430.02 L203.47 429.47 L203.89 428.92 L204.31 428.38 L204.73 427.86 L205.14 427.34 L205.56 426.83 L205.98 426.33 L206.4 425.84 L206.81 425.36 L207.23 424.89 L207.65 424.42 L208.07 423.97 L208.48 423.52 L208.9 423.08 L209.32 422.65 L209.74 422.23 L210.15 421.81 L210.57 421.41 L210.99 421.01 L211.41 420.62 L211.82 420.24 L212.24 419.86 L212.66 419.5 L213.07 419.14 L213.49 418.79 L213.91 418.44 L214.33 418.1 L214.74 417.77 L215.16 417.45 L215.58 417.14 L216 416.83 L216.41 416.53 L216.83 416.23 L217.25 415.94 L217.67 415.66 L218.08 415.39 L218.5 415.12 L218.92 414.86 L219.34 414.6 L219.75 414.35 L220.17 414.11 L220.59 413.87 L221.01 413.64 L221.42 413.42 L221.84 413.2 L222.26 412.99 L222.68 412.78 L223.09 412.58 L223.51 412.39 L223.93 412.2 L224.35 412.02 L224.76 411.84 L225.18 411.67 L225.6 411.5 L226.02 411.34 L226.43 411.18 L226.85 411.03 L227.27 410.88 L227.69 410.74 L228.1 410.61 L228.52 410.48 L228.94 410.35 L229.36 410.23 L229.77 410.11 L230.19 410 L230.61 409.89 L231.03 409.79 L231.44 409.69 L231.86 409.6 L232.28 409.51 L232.69 409.43 L233.11 409.35 L233.53 409.27 L233.95 409.2 L234.36 409.14 L234.78 409.07 L235.2 409.02 L235.62 408.96 L236.03 408.91 L236.45 408.86 L236.87 408.82 L237.29 408.78 L237.7 408.75 L238.12 408.72 L238.54 408.69 L238.96 408.67 L239.37 408.65 L239.79 408.63 L240.21 408.62 L240.63 408.61 L241.04 408.6 L241.46 408.6 L241.88 408.6 L242.3 408.61 L242.71 408.61 L243.13 408.62 L243.55 408.64 L243.97 408.66 L244.38 408.68 L244.8 408.7 L245.22 408.73 L245.64 408.76 L246.05 408.79 L246.47 408.82 L246.89 408.86 L247.31 408.9 L247.72 408.95 L248.14 409 L248.56 409.04 L248.98 409.1 L249.39 409.15 L249.81 409.21 L250.23 409.27 L250.64 409.33 L251.06 409.4 L251.48 409.47 L251.9 409.54 L252.31 409.61 L252.73 409.69 L253.15 409.77 L253.57 409.85 L253.98 409.93 L254.4 410.01 L254.82 410.1 L255.24 410.19 L255.65 410.28 L256.07 410.38 L256.49 410.47 L256.91 410.57 L257.32 410.67 L257.74 410.77 L258.16 410.88 L258.58 410.98 L258.99 411.09 L259.41 411.2 L259.83 411.32 L260.25 411.43 L260.66 411.55 L261.08 411.67 L261.5 411.79 L261.92 411.91 L262.33 412.03 L262.75 412.16 L263.17 412.28 L263.59 412.41 L264 412.54 L264.42 412.68 L264.84 412.81 L265.26 412.95 L265.67 413.08 L266.09 413.22 L266.51 413.36 L266.93 413.51 L267.34 413.65 L267.76 413.8 L268.18 413.94 L268.6 414.09 L269.01 414.24 L269.43 414.39 L269.85 414.54 L270.26 414.7 L270.68 414.85 L271.1 415.01 L271.52 415.17 L271.93 415.33 L272.35 415.49 L272.77 415.65 L273.19 415.82 L273.6 415.98 L274.02 416.15 L274.44 416.32 L274.86 416.48 L275.27 416.65 L275.69 416.83 L276.11 417 L276.53 417.17 L276.94 417.35 L277.36 417.52 L277.78 417.7 L278.2 417.88 L278.61 418.06 L279.03 418.24 L279.45 418.42 L279.87 418.6 L280.28 418.79 L280.7 418.97 L281.12 419.16 L281.54 419.34 L281.95 419.53 L282.37 419.72 L282.79 419.91 L283.21 420.1 L283.62 420.29 L284.04 420.48 L284.46 420.68 L284.88 420.87 L285.29 421.07 L285.71 421.26 L286.13 421.46 L286.55 421.66 L286.96 421.86 L287.38 422.06 L287.8 422.26 L288.21 422.46 L288.63 422.66 L289.05 422.86 L289.47 423.07 L289.88 423.27 L290.3 423.48 L290.72 423.68 L291.14 423.89 L291.55 424.1 L291.97 424.31 L292.39 424.51 L292.81 424.72 L293.22 424.94 L293.64 425.15 L294.06 425.36 L294.48 425.57 L294.89 425.79" stroke="#dc4a55" stroke-width="1" fill="none"/>
<path d="M187.61 344.9 L188.03 345.17 L188.44 345.44 L188.86 345.7 L189.28 345.97 L189.7 346.24 L190.11 346.5 L190.53 346.77 L190.95 347.04 L191.37 347.3 L191.78 347.57 L192.2 347.84 L192.62 348.11 L193.04 348.37 L193.45 348.64 L193.87 348.91 L194.29 349.17 L194.71 349.44 L195.12 349.71 L195.54 349.98 L195.96 350.24 L196.38 350.51 L196.79 350.78 L197.21 351.04 L197.63 351.31 L198.05 351.58 L198.46 351.84 L198.88 352.11 L199.3 352.38 L199.72 352.64 L200.13 352.91 L200.55 353.18 L200.97 353.44 L201.39 353.71 L201.8 353.98 L202.22 354.24 L202.64 354.51 L203.06 354.78 L203.47 355.04 L203.89 355.31 L204.31 355.57 L204.73 355.84 L205.14 356.1 L205.56 356.37 L205.98 356.63 L206.4 356.9 L206.81 357.16 L207.23 357.43 L207.65 357.69 L208.06 357.96 L208.48 358.22 L208.9 358.48 L209.32 358.75 L209.73 359.01 L210.15 359.27 L210.57 359.54 L210.99 359.8 L211.4 360.06 L211.82 360.32 L212.24 360.59 L212.66 360.85 L213.07 361.11 L213.49 361.37 L213.91 361.63 L214.33 361.89 L214.74 362.15 L215.16 362.41 L215.58 362.67 L216 362.93 L216.41 363.19 L216.83 363.45 L217.25 363.71 L217.67 363.97 L218.08 364.23 L218.5 364.48 L218.92 364.74 L219.34 365 L219.75 365.26 L220.17 365.51 L220.59 365.77 L221.01 366.02 L221.42 366.28 L221.84 366.53 L222.26 366.79 L222.68 367.04 L223.09 367.3 L223.51 367.55 L223.93 367.8 L224.35 368.06 L224.76 368.31 L225.18 368.56 L225.6 368.82 L226.01 369.07 L226.43 369.32 L226.85 369.57 L227.27 369.82 L227.68 370.07 L228.1 370.32 L228.52 370.57 L228.94 370.82 L229.35 371.07 L229.77 371.32 L230.19 371.57 L230.61 371.82 L231.02 372.07 L231.44 372.31 L231.86 372.56 L232.28 372.81 L232.69 373.06 L233.11 373.3 L233.53 373.55 L233.95 373.8 L234.36 374.04 L234.78 374.29 L235.2 374.53 L235.62 374.78 L236.03 375.02 L236.45 375.27 L236.87 375.51 L237.29 375.76 L237.7 376 L238.12 376.25 L238.54 376.49 L238.96 376.73 L239.37 376.98 L239.79 377.22 L240.21 377.46 L240.63 377.71 L241.04 377.95 L241.46 378.19 L241.88 378.43 L242.3 378.68 L242.71 378.92 L243.13 379.16 L243.55 379.4 L243.97 379.65 L244.38 379.89 L244.8 380.13 L245.22 380.37 L245.63 380.61 L246.05 380.85 L246.47 381.1 L246.89 381.34 L247.3 381.58 L247.72 381.82 L248.14 382.06 L248.56 382.3 L248.97 382.54 L249.39 382.78 L249.81 383.03 L250.23 383.27 L250.64 383.51 L251.06 383.75 L251.48 383.99 L251.9 384.23 L252.31 384.47 L252.73 384.71 L253.15 384.96 L253.57 385.2 L253.98 385.44 L254.4 385.68 L254.82 385.92 L255.24 386.16 L255.65 386.4 L256.07 386.65 L256.49 386.89 L256.91 387.13 L257.32 387.37 L257.74 387.61 L258.16 387.85 L258.58 388.1 L258.99 388.34 L259.41 388.58 L259.83 388.82 L260.25 389.06 L260.66 389.31 L261.08 389.55 L261.5 389.79 L261.92 390.04 L262.33 390.28 L262.75 390.52 L263.17 390.76 L263.59 391.01 L264 391.25 L264.42 391.49 L264.84 391.74 L265.25 391.98 L265.67 392.23 L266.09 392.47 L266.51 392.71 L266.92 392.96 L267.34 393.2 L267.76 393.45 L268.18 393.69 L268.59 393.94 L269.01 394.18 L269.43 394.43 L269.85 394.67 L270.26 394.92 L270.68 395.16 L271.1 395.41 L271.52 395.66 L271.93 395.9 L272.35 396.15 L272.77 396.4 L273.19 396.64 L273.6 396.89 L274.02 397.14 L274.44 397.38 L274.86 397.63 L275.27 397.88 L275.69 398.13 L276.11 398.37 L276.53 398.62 L276.94 398.87 L277.36 399.12 L277.78 399.37 L278.2 399.62 L278.61 399.87 L279.03 400.11 L279.45 400.36 L279.87 400.61 L280.28 400.86 L280.7 401.11 L281.12 401.36 L281.54 401.61 L281.95 401.86 L282.37 402.11 L282.79 402.36 L283.2 402.61 L283.62 402.87 L284.04 403.12 L284.46 403.37 L284.87 403.62 L285.29 403.87 L285.71 404.12 L286.13 404.38 L286.54 404.63 L286.96 404.88 L287.38 405.13 L287.8 405.39 L288.21 405.64 L288.63 405.89 L289.05 406.14 L289.47 406.4 L289.88 406.65 L290.3 406.91 L290.72 407.16 L291.14 407.41 L291.55 407.67 L291.97 407.92 L292.39 408.18 L292.81 408.43 L293.22 408.69 L293.64 408.94 L294.06 409.2 L294.48 409.45 L294.89 409.71" stroke="#222" stroke-width="1" fill="none"/>
</g>
<path d="M33 442.3h5.5 M293.3 442.3h-5.5 M33 432.71h3 M293.3 432.71h-3 M33 427.1h3 M293.3 427.1h-3 M33 423.12h3 M293.3 423.12h-3 M33 420.03h3 M293.3 420.03h-3 M33 417.51h3 M293.3 417.51h-3 M33 415.38h3 M293.3 415.38h-3 M33 413.53h3 M293.3 413.53h-3 M33 411.9h3 M293.3 411.9h-3 M33 410.44h5.5 M293.3 410.44h-5.5 M33 400.85h3 M293.3 400.85h-3 M33 395.24h3 M293.3 395.24h-3 M33 391.26h3 M293.3 391.26h-3 M33 388.17h3 M293.3 388.17h-3 M33 385.65h3 M293.3 385.65h-3 M33 383.52h3 M293.3 383.52h-3 M33 381.67h3 M293.3 381.67h-3 M33 380.04h3 M293.3 380.04h-3 M33 378.58h5.5 M293.3 378.58h-5.5 M33 368.99h3 M293.3 368.99h-3 M33 363.38h3 M293.3 363.38h-3 M33 359.4h3 M293.3 359.4h-3 M33 356.31h3 M293.3 356.31h-3 M33 353.79h3 M293.3 353.79h-3 M33 351.66h3 M293.3 351.66h-3 M33 349.81h3 M293.3 349.81h-3 M33 348.18h3 M293.3 348.18h-3 M33 346.72h5.5 M293.3 346.72h-5.5 M33 337.13h3 M293.3 337.13h-3 M33 331.52h3 M293.3 331.52h-3 M33 327.54h3 M293.3 327.54h-3 M33 324.45h3 M293.3 324.45h-3 M33 321.93h3 M293.3 321.93h-3 M33 319.8h3 M293.3 319.8h-3 M33 317.95h3 M293.3 317.95h-3 M33 316.32h3 M293.3 316.32h-3 M33 314.86h5.5 M293.3 314.86h-5.5 M33 305.27h3 M293.3 305.27h-3 M33 299.66h3 M293.3 299.66h-3 M33 295.68h3 M293.3 295.68h-3 M33 292.59h3 M293.3 292.59h-3 M33 290.07h3 M293.3 290.07h-3 M33 287.94h3 M293.3 287.94h-3 M33 286.09h3 M293.3 286.09h-3 M33 284.46h3 M293.3 284.46h-3 M33 283h5.5 M293.3 283h-5.5 M33 273.41h3 M293.3 273.41h-3 M33 267.8h3 M293.3 267.8h-3 M33 263.82h3 M293.3 263.82h-3 M33 260.73h3 M293.3 260.73h-3 M40.5 442.3v-2.5 M52.57 442.3v-2.5 M61.93 442.3v-2.5 M69.58 442.3v-2.5 M76.05 442.3v-2.5 M81.65 442.3v-2.5 M86.59 442.3v-2.5 M91.01 442.3v-2.5 M120.09 442.3v-2.5 M137.1 442.3v-2.5 M149.17 442.3v-2.5 M158.53 442.3v-2.5 M166.18 442.3v-2.5 M172.65 442.3v-2.5 M178.25 442.3v-2.5 M183.19 442.3v-2.5 M187.61 442.3v-2.5 M216.69 442.3v-2.5 M233.7 442.3v-2.5 M245.77 442.3v-2.5 M255.13 442.3v-2.5 M262.78 442.3v-2.5 M269.25 442.3v-2.5 M274.85 442.3v-2.5 M279.79 442.3v-2.5 M284.21 442.3v-2.5" stroke="#7a7a7a" stroke-width="1" fill="none"/>
<rect x="33" y="260.5" width="260.3" height="181.8" stroke="#646464" stroke-width="1.1" fill="none"/>
<line x1="45" y1="304.5" x2="51.8" y2="304.5" stroke="#707070" stroke-width="1.1"/>
<circle cx="48.7" cy="304" r="1.6" fill="#000"/>
<line x1="51.8" y1="291.5" x2="60.7" y2="291.5" stroke="#707070" stroke-width="1.1"/>
<circle cx="56.4" cy="291.8" r="1.6" fill="#000"/>
<line x1="62.5" y1="290.5" x2="69" y2="290.5" stroke="#707070" stroke-width="1.1"/>
<circle cx="65.8" cy="290.6" r="1.6" fill="#000"/>
<line x1="78" y1="291.5" x2="85.5" y2="291.5" stroke="#707070" stroke-width="1.1"/>
<circle cx="81.7" cy="291.5" r="1.6" fill="#000"/>
<line x1="120.5" y1="305.5" x2="126" y2="305.5" stroke="#707070" stroke-width="1.1"/>
<circle cx="123" cy="305.5" r="1.6" fill="#000"/>
<line x1="180.7" y1="350.5" x2="205.4" y2="350.5" stroke="#555" stroke-width="1"/>
<circle cx="195" cy="350.8" r="1.8" fill="#000"/>
<line x1="215.8" y1="372.5" x2="234.2" y2="372.5" stroke="#888" stroke-width="1"/>
<circle cx="226.1" cy="372.5" r="1.8" fill="#000"/>
<line x1="220.7" y1="368.5" x2="227" y2="368.5" stroke="#4848d8" stroke-width="1"/>
<circle cx="224.4" cy="368.8" r="1.9" fill="#1010c8"/>
<line x1="263.2" y1="394.5" x2="274.3" y2="394.5" stroke="#4848d8" stroke-width="1"/>
<circle cx="269.1" cy="394.4" r="1.9" fill="#1010c8"/>
<line x1="249" y1="367.5" x2="272.3" y2="367.5" stroke="#b8b8b8" stroke-width="1"/>
<path d="M259.5 365.3h6l-3 5z" stroke="#333" stroke-width="0.9" fill="#fff"/>
<line x1="277.2" y1="348.5" x2="293.3" y2="348.5" stroke="#b8b8b8" stroke-width="1"/>
<path d="M280.9 346.8h6l-3 5z" stroke="#333" stroke-width="0.9" fill="#fff"/>
<text x="32.7" y="246.8" font-size="11.7" textLength="52.6" lengthAdjust="spacingAndGlyphs" fill="#000">HD 197157</text>
<g fill="#5a40a6"><text x="30.6" y="285.9" font-size="7.3" text-anchor="end">100</text><text x="30.6" y="317.76" font-size="7.3" text-anchor="end">10</text><text x="30.6" y="349.62" font-size="7.3" text-anchor="end">1</text><text x="30.6" y="381.48" font-size="7.3" text-anchor="end">0.1</text><text x="30.6" y="413.34" font-size="7.3" text-anchor="end">0.01</text><text x="30.6" y="445.2" font-size="7.3" text-anchor="end">0.001</text><text x="48.95" y="258" font-size="7.4" text-anchor="middle">U</text><text x="56.72" y="258" font-size="7.4" text-anchor="middle">B</text><text x="65.53" y="258" font-size="7.4" text-anchor="middle">V</text><text x="71.69" y="255.3" font-size="7.4" text-anchor="middle">R</text><text x="74.69" y="258.4" font-size="5.6" text-anchor="middle">c</text><text x="80.82" y="255.3" font-size="7.4" text-anchor="middle">I</text><text x="82.62" y="258.4" font-size="5.6" text-anchor="middle">c</text><text x="100.37" y="258" font-size="7.4" text-anchor="middle">J</text><text x="111.82" y="258" font-size="7.4" text-anchor="middle">H</text><text x="123.45" y="258" font-size="7.4" text-anchor="middle">K</text><text x="224.34" y="256.5" font-size="7.4" text-anchor="middle">24 µm</text><text x="269.25" y="256.5" font-size="7.4" text-anchor="middle">70 µm</text><text transform="translate(68.33 445.3) rotate(-78)" font-size="7.1" text-anchor="end">0.5 µm</text><text transform="translate(97.41 445.3) rotate(-78)" font-size="7.1" text-anchor="end">1 µm</text><text transform="translate(126.49 445.3) rotate(-78)" font-size="7.1" text-anchor="end">2 µm</text><text transform="translate(194.01 445.3) rotate(-78)" font-size="7.1" text-anchor="end">10 µm</text><text transform="translate(232.45 445.3) rotate(-78)" font-size="7.1" text-anchor="end">25 µm</text><text transform="translate(290.61 445.3) rotate(-78)" font-size="7.1" text-anchor="end">100 µm</text></g>
<text x="161.3" y="458.8" font-size="11" fill="#6c2749" text-anchor="middle">λ (µm)</text>
<text transform="translate(10.6 351.5) rotate(-90)" font-size="11.1" fill="#6c2749" text-anchor="middle">Flux Density (Jy)</text>
<clipPath id="c4"><rect x="334.5" y="258" width="263.8" height="184.2"/></clipPath>
<line x1="350.24" y1="258" x2="350.24" y2="442.2" stroke="#e7e4f1" stroke-width="1"/>
<line x1="358.77" y1="258" x2="358.77" y2="442.2" stroke="#e7e4f1" stroke-width="1"/>
<line x1="368.25" y1="258" x2="368.25" y2="442.2" stroke="#e7e4f1" stroke-width="1"/>
<line x1="374.68" y1="258" x2="374.68" y2="442.2" stroke="#e7e4f1" stroke-width="1"/>
<line x1="383.63" y1="258" x2="383.63" y2="442.2" stroke="#e7e4f1" stroke-width="1"/>
<line x1="402.6" y1="258" x2="402.6" y2="442.2" stroke="#e7e4f1" stroke-width="1"/>
<line x1="415.22" y1="258" x2="415.22" y2="442.2" stroke="#e7e4f1" stroke-width="1"/>
<line x1="426.33" y1="258" x2="426.33" y2="442.2" stroke="#e7e4f1" stroke-width="1"/>
<line x1="528.62" y1="258" x2="528.62" y2="442.2" stroke="#e7e4f1" stroke-width="1"/>
<line x1="574.09" y1="258" x2="574.09" y2="442.2" stroke="#e7e4f1" stroke-width="1"/>
<g clip-path="url(#c4)">
<path d="M343.4 303.3v8.97 M344.68 302.48v11.49 M346.01 301.63v6.3 M347.53 300.65v19.71 M349.37 299.42v17.3 M350.75 298.49v13.7 M352.17 297.47v7.97 M353.45 296.53v8.63 M355.39 284.34v11.29 M358.12 283.85v11 M359.99 283.67v6.1 M362.47 283.49v10.32 M365.27 283.44v6.28 M366.99 283.41v4.64 M369.53 283.66v4.04 M371.38 283.95v3.84 M373.1 284.21v6.61 M375.92 284.71v4.29 M377.94 285.18v6.45 M380.34 285.74v6.29 M383.12 286.39v4.05 M385.3 287.13v4.59 M387.51 287.96v1.97 M389.53 288.71v5.88 M391.2 289.33v1.28 M393.67 290.3v1.2 M396.02 291.36v1.68 M398.1 292.3v2.99 M399.97 293.14v1.53 M401.86 293.99v2.08 M403.85 294.92v1.39 M406.49 296.23v1.3 M408.87 297.41v2.76 M410.61 298.28v0.65 M412.53 299.23v2.41 M415 300.45v1.09 M417.06 301.54v0.94 M419.3 302.72v0.61 M421.88 304.07v2.74 M424.82 305.62v2.34 M427.76 307.33v0.55 M429.76 308.62v2.92 M432.45 310.37v1.53 M435.37 312.29v2.05 M438.11 314.11v1.23" stroke="#d2b0aa" stroke-width="0.6" fill="none"/>
<path d="M343.4 303.3 L347 301 L350.6 298.6 L353.5 296.5 L354.5 284.5 L358.4 283.8 L362 283.5 L367.8 283.4 L375 284.5 L383.6 286.5 L393 290 L403 294.5 L414.9 300.4 L426.3 306.4 L427.14 306.94 L427.98 307.48 L428.82 308.02 L429.66 308.56 L430.51 309.11 L431.35 309.65 L432.19 310.2 L433.03 310.75 L433.87 311.3 L434.71 311.86 L435.55 312.41 L436.39 312.97 L437.23 313.53 L438.08 314.09 L438.92 314.65 L439.76 315.21 L440.6 315.78 L441.44 316.34 L442.28 316.91 L443.12 317.48 L443.96 318.05 L444.8 318.62 L445.65 319.19 L446.49 319.77 L447.33 320.34 L448.17 320.92 L449.01 321.5 L449.85 322.07 L450.69 322.65 L451.53 323.23 L452.37 323.82 L453.22 324.4 L454.06 324.98 L454.9 325.57 L455.74 326.15 L456.58 326.74 L457.42 327.33 L458.26 327.92 L459.1 328.51 L459.94 329.1 L460.78 329.69 L461.63 330.28 L462.47 330.87 L463.31 331.46 L464.15 332.06 L464.99 332.65 L465.83 333.25 L466.67 333.85 L467.51 334.44 L468.35 335.04 L469.2 335.64 L470.04 336.24 L470.88 336.84 L471.72 337.44 L472.56 338.04 L473.4 338.64 L474.24 339.25 L475.08 339.85 L475.92 340.45 L476.77 341.06 L477.61 341.66 L478.45 342.27 L479.29 342.87 L480.13 343.48 L480.97 344.09 L481.81 344.7 L482.65 345.3 L483.49 345.91 L484.34 346.52 L485.18 347.13 L486.02 347.74 L486.86 348.35 L487.7 348.96 L488.54 349.57 L489.38 350.18 L490.22 350.8 L491.06 351.41 L491.91 352.02 L492.75 352.63 L493.59 353.25 L494.43 353.86 L495.27 354.48 L496.11 355.09 L496.95 355.71 L497.79 356.32 L498.63 356.94 L499.48 357.55 L500.32 358.17 L501.16 358.79 L502 359.4 L502.84 360.02 L503.68 360.64 L504.52 361.26 L505.36 361.87 L506.2 362.49 L507.05 363.11 L507.89 363.73 L508.73 364.35 L509.57 364.97 L510.41 365.59 L511.25 366.21 L512.09 366.83 L512.93 367.45 L513.77 368.07 L514.62 368.69 L515.46 369.31 L516.3 369.93 L517.14 370.55 L517.98 371.18 L518.82 371.8 L519.66 372.42 L520.5 373.04 L521.34 373.66 L522.19 374.29 L523.03 374.91 L523.87 375.53 L524.71 376.16 L525.55 376.78 L526.39 377.4 L527.23 378.03 L528.07 378.65 L528.91 379.28 L529.75 379.9 L530.6 380.52 L531.44 381.15 L532.28 381.77 L533.12 382.4 L533.96 383.02 L534.8 383.65 L535.64 384.27 L536.48 384.9 L537.32 385.53 L538.17 386.15 L539.01 386.78 L539.85 387.4 L540.69 388.03 L541.53 388.66 L542.37 389.28 L543.21 389.91 L544.05 390.53 L544.89 391.16 L545.74 391.79 L546.58 392.41 L547.42 393.04 L548.26 393.67 L549.1 394.3 L549.94 394.92 L550.78 395.55 L551.62 396.18 L552.46 396.81 L553.31 397.43 L554.15 398.06 L554.99 398.69 L555.83 399.32 L556.67 399.94 L557.51 400.57 L558.35 401.2 L559.19 401.83 L560.03 402.46 L560.88 403.09 L561.72 403.71 L562.56 404.34 L563.4 404.97 L564.24 405.6 L565.08 406.23 L565.92 406.86 L566.76 407.49 L567.6 408.11 L568.45 408.74 L569.29 409.37 L570.13 410 L570.97 410.63 L571.81 411.26 L572.65 411.89 L573.49 412.52 L574.33 413.15 L575.17 413.78 L576.02 414.41 L576.86 415.04 L577.7 415.67 L578.54 416.3 L579.38 416.93 L580.22 417.56 L581.06 418.19 L581.9 418.82 L582.74 419.45 L583.59 420.08 L584.43 420.7 L585.27 421.33 L586.11 421.97 L586.95 422.6 L587.79 423.23 L588.63 423.86 L589.47 424.49 L590.31 425.12 L591.15 425.75 L592 426.38 L592.84 427.01 L593.68 427.64 L594.52 428.27 L595.36 428.9 L596.2 429.53 L597.04 430.16 L597.88 430.79 L598.72 431.42 L599.57 432.05" stroke="#c2bcc0" stroke-width="0.9" fill="none"/>
<path d="M529.9 472.09 L530.32 471.02 L530.74 469.97 L531.17 468.93 L531.59 467.91 L532.01 466.9 L532.43 465.91 L532.86 464.93 L533.28 463.96 L533.7 463.01 L534.12 462.07 L534.55 461.15 L534.97 460.24 L535.39 459.35 L535.81 458.47 L536.24 457.6 L536.66 456.74 L537.08 455.9 L537.5 455.07 L537.93 454.26 L538.35 453.46 L538.77 452.67 L539.2 451.89 L539.62 451.12 L540.04 450.37 L540.46 449.63 L540.89 448.9 L541.31 448.18 L541.73 447.48 L542.15 446.78 L542.58 446.1 L543 445.43 L543.42 444.77 L543.84 444.12 L544.27 443.49 L544.69 442.86 L545.11 442.24 L545.53 441.64 L545.96 441.04 L546.38 440.46 L546.8 439.89 L547.23 439.33 L547.65 438.77 L548.07 438.23 L548.49 437.7 L548.92 437.17 L549.34 436.66 L549.76 436.16 L550.18 435.66 L550.61 435.18 L551.03 434.71 L551.45 434.24 L551.87 433.78 L552.3 433.34 L552.72 432.9 L553.14 432.47 L553.56 432.05 L553.99 431.64 L554.41 431.23 L554.83 430.84 L555.26 430.45 L555.68 430.07 L556.1 429.7 L556.52 429.34 L556.95 428.99 L557.37 428.64 L557.79 428.3 L558.21 427.97 L558.64 427.65 L559.06 427.34 L559.48 427.03 L559.9 426.73 L560.33 426.44 L560.75 426.15 L561.17 425.88 L561.59 425.61 L562.02 425.34 L562.44 425.09 L562.86 424.84 L563.29 424.59 L563.71 424.36 L564.13 424.13 L564.55 423.91 L564.98 423.69 L565.4 423.48 L565.82 423.28 L566.24 423.08 L566.67 422.89 L567.09 422.7 L567.51 422.52 L567.93 422.35 L568.36 422.19 L568.78 422.02 L569.2 421.87 L569.62 421.72 L570.05 421.58 L570.47 421.44 L570.89 421.31 L571.32 421.18 L571.74 421.06 L572.16 420.94 L572.58 420.83 L573.01 420.73 L573.43 420.62 L573.85 420.53 L574.27 420.44 L574.7 420.35 L575.12 420.27 L575.54 420.2 L575.96 420.13 L576.39 420.06 L576.81 420 L577.23 419.94 L577.65 419.89 L578.08 419.84 L578.5 419.8 L578.92 419.76 L579.35 419.73 L579.77 419.7 L580.19 419.67 L580.61 419.65 L581.04 419.63 L581.46 419.62 L581.88 419.61 L582.3 419.6 L582.73 419.6 L583.15 419.6 L583.57 419.61 L583.99 419.62 L584.42 419.63 L584.84 419.65 L585.26 419.67 L585.68 419.7 L586.11 419.72 L586.53 419.76 L586.95 419.79 L587.38 419.83 L587.8 419.87 L588.22 419.92 L588.64 419.96 L589.07 420.02 L589.49 420.07 L589.91 420.13 L590.33 420.19 L590.76 420.26 L591.18 420.32 L591.6 420.39 L592.02 420.47 L592.45 420.54 L592.87 420.62 L593.29 420.71 L593.71 420.79 L594.14 420.88 L594.56 420.97 L594.98 421.06 L595.41 421.16 L595.83 421.26 L596.25 421.36 L596.67 421.46 L597.1 421.57 L597.52 421.68 L597.94 421.79 L598.36 421.91 L598.79 422.02 L599.21 422.14 L599.63 422.26 L600.05 422.39" stroke="#dc4a55" stroke-width="1" fill="none"/>
<path d="M491.44 351.68 L491.86 351.99 L492.28 352.3 L492.71 352.6 L493.13 352.91 L493.55 353.22 L493.97 353.53 L494.4 353.84 L494.82 354.15 L495.24 354.46 L495.66 354.76 L496.09 355.07 L496.51 355.38 L496.93 355.69 L497.35 356 L497.78 356.31 L498.2 356.62 L498.62 356.93 L499.04 357.24 L499.47 357.55 L499.89 357.86 L500.31 358.17 L500.74 358.48 L501.16 358.79 L501.58 359.1 L502 359.41 L502.43 359.72 L502.85 360.03 L503.27 360.34 L503.69 360.65 L504.12 360.96 L504.54 361.27 L504.96 361.58 L505.38 361.89 L505.81 362.2 L506.23 362.51 L506.65 362.82 L507.07 363.13 L507.5 363.44 L507.92 363.75 L508.34 364.07 L508.77 364.38 L509.19 364.69 L509.61 365 L510.03 365.31 L510.46 365.62 L510.88 365.93 L511.3 366.24 L511.72 366.56 L512.15 366.87 L512.57 367.18 L512.99 367.49 L513.41 367.8 L513.84 368.11 L514.26 368.43 L514.68 368.74 L515.1 369.05 L515.53 369.36 L515.95 369.67 L516.37 369.99 L516.8 370.3 L517.22 370.61 L517.64 370.92 L518.06 371.23 L518.49 371.55 L518.91 371.86 L519.33 372.17 L519.75 372.48 L520.18 372.8 L520.6 373.11 L521.02 373.42 L521.44 373.73 L521.87 374.04 L522.29 374.36 L522.71 374.67 L523.13 374.98 L523.56 375.29 L523.98 375.6 L524.4 375.92 L524.83 376.23 L525.25 376.54 L525.67 376.85 L526.09 377.16 L526.52 377.47 L526.94 377.78 L527.36 378.09 L527.78 378.41 L528.21 378.72 L528.63 379.03 L529.05 379.34 L529.47 379.65 L529.9 379.96 L530.32 380.27 L530.74 380.57 L531.16 380.88 L531.59 381.19 L532.01 381.5 L532.43 381.81 L532.86 382.11 L533.28 382.42 L533.7 382.73 L534.12 383.03 L534.55 383.34 L534.97 383.64 L535.39 383.95 L535.81 384.25 L536.24 384.55 L536.66 384.85 L537.08 385.15 L537.5 385.45 L537.93 385.75 L538.35 386.05 L538.77 386.35 L539.19 386.65 L539.62 386.94 L540.04 387.24 L540.46 387.53 L540.89 387.82 L541.31 388.11 L541.73 388.41 L542.15 388.69 L542.58 388.98 L543 389.27 L543.42 389.55 L543.84 389.84 L544.27 390.12 L544.69 390.4 L545.11 390.68 L545.53 390.96 L545.96 391.23 L546.38 391.51 L546.8 391.78 L547.22 392.05 L547.65 392.32 L548.07 392.59 L548.49 392.85 L548.92 393.12 L549.34 393.38 L549.76 393.64 L550.18 393.89 L550.61 394.15 L551.03 394.4 L551.45 394.65 L551.87 394.9 L552.3 395.15 L552.72 395.4 L553.14 395.64 L553.56 395.88 L553.99 396.12 L554.41 396.35 L554.83 396.59 L555.25 396.82 L555.68 397.05 L556.1 397.28 L556.52 397.5 L556.95 397.72 L557.37 397.94 L557.79 398.16 L558.21 398.38 L558.64 398.59 L559.06 398.81 L559.48 399.02 L559.9 399.22 L560.33 399.43 L560.75 399.63 L561.17 399.83 L561.59 400.03 L562.02 400.23 L562.44 400.43 L562.86 400.62 L563.28 400.81 L563.71 401 L564.13 401.19 L564.55 401.37 L564.98 401.56 L565.4 401.74 L565.82 401.92 L566.24 402.1 L566.67 402.28 L567.09 402.46 L567.51 402.63 L567.93 402.81 L568.36 402.98 L568.78 403.15 L569.2 403.32 L569.62 403.49 L570.05 403.66 L570.47 403.83 L570.89 403.99 L571.31 404.16 L571.74 404.32 L572.16 404.48 L572.58 404.65 L573.01 404.81 L573.43 404.97 L573.85 405.13 L574.27 405.29 L574.7 405.45 L575.12 405.61 L575.54 405.77 L575.96 405.93 L576.39 406.08 L576.81 406.24 L577.23 406.4 L577.65 406.56 L578.08 406.72 L578.5 406.87 L578.92 407.03 L579.34 407.19 L579.77 407.34 L580.19 407.5 L580.61 407.66 L581.04 407.82 L581.46 407.98 L581.88 408.13 L582.3 408.29 L582.73 408.45 L583.15 408.61 L583.57 408.77 L583.99 408.93 L584.42 409.09 L584.84 409.25 L585.26 409.42 L585.68 409.58 L586.11 409.74 L586.53 409.9 L586.95 410.07 L587.37 410.23 L587.8 410.4 L588.22 410.57 L588.64 410.73 L589.07 410.9 L589.49 411.07 L589.91 411.24 L590.33 411.41 L590.76 411.58 L591.18 411.75 L591.6 411.92 L592.02 412.1 L592.45 412.27 L592.87 412.45 L593.29 412.62 L593.71 412.8 L594.14 412.98 L594.56 413.15 L594.98 413.33 L595.4 413.51 L595.83 413.7 L596.25 413.88 L596.67 414.06 L597.1 414.25 L597.52 414.43 L597.94 414.62 L598.36 414.8 L598.79 414.99 L599.21 415.18 L599.63 415.37 L600.05 415.56" stroke="#222" stroke-width="1" fill="none"/>
</g>
<path d="M334.5 442.02h3 M598.3 442.02h-3 M334.5 437.42h3 M598.3 437.42h-3 M334.5 433.86h3 M598.3 433.86h-3 M334.5 430.95h3 M598.3 430.95h-3 M334.5 428.49h3 M598.3 428.49h-3 M334.5 426.36h3 M598.3 426.36h-3 M334.5 424.48h3 M598.3 424.48h-3 M334.5 422.8h5.5 M598.3 422.8h-5.5 M334.5 411.74h3 M598.3 411.74h-3 M334.5 405.27h3 M598.3 405.27h-3 M334.5 400.67h3 M598.3 400.67h-3 M334.5 397.11h3 M598.3 397.11h-3 M334.5 394.2h3 M598.3 394.2h-3 M334.5 391.74h3 M598.3 391.74h-3 M334.5 389.61h3 M598.3 389.61h-3 M334.5 387.73h3 M598.3 387.73h-3 M334.5 386.05h5.5 M598.3 386.05h-5.5 M334.5 374.99h3 M598.3 374.99h-3 M334.5 368.52h3 M598.3 368.52h-3 M334.5 363.92h3 M598.3 363.92h-3 M334.5 360.36h3 M598.3 360.36h-3 M334.5 357.45h3 M598.3 357.45h-3 M334.5 354.99h3 M598.3 354.99h-3 M334.5 352.86h3 M598.3 352.86h-3 M334.5 350.98h3 M598.3 350.98h-3 M334.5 349.3h5.5 M598.3 349.3h-5.5 M334.5 338.24h3 M598.3 338.24h-3 M334.5 331.77h3 M598.3 331.77h-3 M334.5 327.17h3 M598.3 327.17h-3 M334.5 323.61h3 M598.3 323.61h-3 M334.5 320.7h3 M598.3 320.7h-3 M334.5 318.24h3 M598.3 318.24h-3 M334.5 316.11h3 M598.3 316.11h-3 M334.5 314.23h3 M598.3 314.23h-3 M334.5 312.55h5.5 M598.3 312.55h-5.5 M334.5 301.49h3 M598.3 301.49h-3 M334.5 295.02h3 M598.3 295.02h-3 M334.5 290.42h3 M598.3 290.42h-3 M334.5 286.86h3 M598.3 286.86h-3 M334.5 283.95h3 M598.3 283.95h-3 M334.5 281.49h3 M598.3 281.49h-3 M334.5 279.36h3 M598.3 279.36h-3 M334.5 277.48h3 M598.3 277.48h-3 M334.5 275.8h5.5 M598.3 275.8h-5.5 M334.5 264.74h3 M598.3 264.74h-3 M334.5 258.27h3 M598.3 258.27h-3 M342.5 442.2v-2.5 M354.72 442.2v-2.5 M364.2 442.2v-2.5 M371.94 442.2v-2.5 M378.49 442.2v-2.5 M384.16 442.2v-2.5 M389.16 442.2v-2.5 M393.64 442.2v-2.5 M423.08 442.2v-2.5 M440.3 442.2v-2.5 M452.52 442.2v-2.5 M462 442.2v-2.5 M469.74 442.2v-2.5 M476.29 442.2v-2.5 M481.96 442.2v-2.5 M486.96 442.2v-2.5 M491.44 442.2v-2.5 M520.88 442.2v-2.5 M538.1 442.2v-2.5 M550.32 442.2v-2.5 M559.8 442.2v-2.5 M567.54 442.2v-2.5 M574.09 442.2v-2.5 M579.76 442.2v-2.5 M584.76 442.2v-2.5 M589.24 442.2v-2.5" stroke="#7a7a7a" stroke-width="1" fill="none"/>
<rect x="334.5" y="258" width="263.8" height="184.2" stroke="#646464" stroke-width="1.1" fill="none"/>
<line x1="346.8" y1="298.5" x2="354" y2="298.5" stroke="#707070" stroke-width="1.1"/>
<circle cx="350.6" cy="298.5" r="1.6" fill="#000"/>
<line x1="353.7" y1="284.5" x2="363" y2="284.5" stroke="#707070" stroke-width="1.1"/>
<circle cx="358.4" cy="284" r="1.6" fill="#000"/>
<line x1="364" y1="283.5" x2="371.5" y2="283.5" stroke="#707070" stroke-width="1.1"/>
<circle cx="367.8" cy="283.6" r="1.6" fill="#000"/>
<line x1="379.5" y1="286.5" x2="388" y2="286.5" stroke="#707070" stroke-width="1.1"/>
<circle cx="383.6" cy="286.5" r="1.6" fill="#000"/>
<line x1="412.5" y1="300.5" x2="417.5" y2="300.5" stroke="#707070" stroke-width="1.1"/>
<circle cx="414.9" cy="300.4" r="1.6" fill="#000"/>
<line x1="423.5" y1="306.5" x2="429" y2="306.5" stroke="#707070" stroke-width="1.1"/>
<circle cx="426.3" cy="306.4" r="1.6" fill="#000"/>
<line x1="484.1" y1="352.5" x2="509.7" y2="352.5" stroke="#555" stroke-width="1"/>
<circle cx="499.1" cy="352.6" r="1.8" fill="#000"/>
<line x1="520" y1="374.5" x2="538.4" y2="374.5" stroke="#888" stroke-width="1"/>
<circle cx="530" cy="374.2" r="1.8" fill="#000"/>
<line x1="525" y1="378.5" x2="531.5" y2="378.5" stroke="#4848d8" stroke-width="1"/>
<circle cx="528.1" cy="378.6" r="1.9" fill="#1010c8"/>
<line x1="568" y1="405.5" x2="579" y2="405.5" stroke="#4848d8" stroke-width="1"/>
<circle cx="573.5" cy="405.7" r="1.9" fill="#1010c8"/>
<line x1="554.4" y1="376.5" x2="577.2" y2="376.5" stroke="#b8b8b8" stroke-width="1"/>
<path d="M564.4 375.1h6l-3 5z" stroke="#333" stroke-width="0.9" fill="#fff"/>
<line x1="582.9" y1="360.5" x2="598.3" y2="360.5" stroke="#b8b8b8" stroke-width="1"/>
<path d="M585.8 358.3h6l-3 5z" stroke="#333" stroke-width="0.9" fill="#fff"/>
<text x="335.2" y="244.1" font-size="11.7" textLength="52.6" lengthAdjust="spacingAndGlyphs" fill="#000">HD 202730</text>
<g fill="#5a40a6"><text x="332.6" y="278.7" font-size="7.3" text-anchor="end">100</text><text x="332.6" y="315.45" font-size="7.3" text-anchor="end">10</text><text x="332.6" y="352.2" font-size="7.3" text-anchor="end">1</text><text x="332.6" y="388.95" font-size="7.3" text-anchor="end">0.1</text><text x="332.6" y="425.7" font-size="7.3" text-anchor="end">0.01</text><text x="351.04" y="255" font-size="7.4" text-anchor="middle">U</text><text x="358.92" y="255" font-size="7.4" text-anchor="middle">B</text><text x="367.85" y="255" font-size="7.4" text-anchor="middle">V</text><text x="374.08" y="252.3" font-size="7.4" text-anchor="middle">R</text><text x="377.08" y="255.4" font-size="5.6" text-anchor="middle">c</text><text x="383.33" y="252.3" font-size="7.4" text-anchor="middle">I</text><text x="385.13" y="255.4" font-size="5.6" text-anchor="middle">c</text><text x="403.1" y="255" font-size="7.4" text-anchor="middle">J</text><text x="414.72" y="255" font-size="7.4" text-anchor="middle">H</text><text x="426.48" y="255" font-size="7.4" text-anchor="middle">K</text><text x="528.62" y="253.5" font-size="7.4" text-anchor="middle">24 µm</text><text x="574.09" y="253.5" font-size="7.4" text-anchor="middle">70 µm</text><text transform="translate(370.6 445.2) rotate(-78)" font-size="7.1" text-anchor="end">0.5 µm</text><text transform="translate(400.04 445.2) rotate(-78)" font-size="7.1" text-anchor="end">1 µm</text><text transform="translate(429.48 445.2) rotate(-78)" font-size="7.1" text-anchor="end">2 µm</text><text transform="translate(497.84 445.2) rotate(-78)" font-size="7.1" text-anchor="end">10 µm</text><text transform="translate(536.76 445.2) rotate(-78)" font-size="7.1" text-anchor="end">25 µm</text><text transform="translate(595.64 445.2) rotate(-78)" font-size="7.1" text-anchor="end">100 µm</text></g>
<text x="464.7" y="458.7" font-size="11" fill="#6c2749" text-anchor="middle">λ (µm)</text>
<text transform="translate(315.1 349.8) rotate(-90)" font-size="11.1" fill="#6c2749" text-anchor="middle">Flux Density (Jy)</text>
</svg></body></html>
